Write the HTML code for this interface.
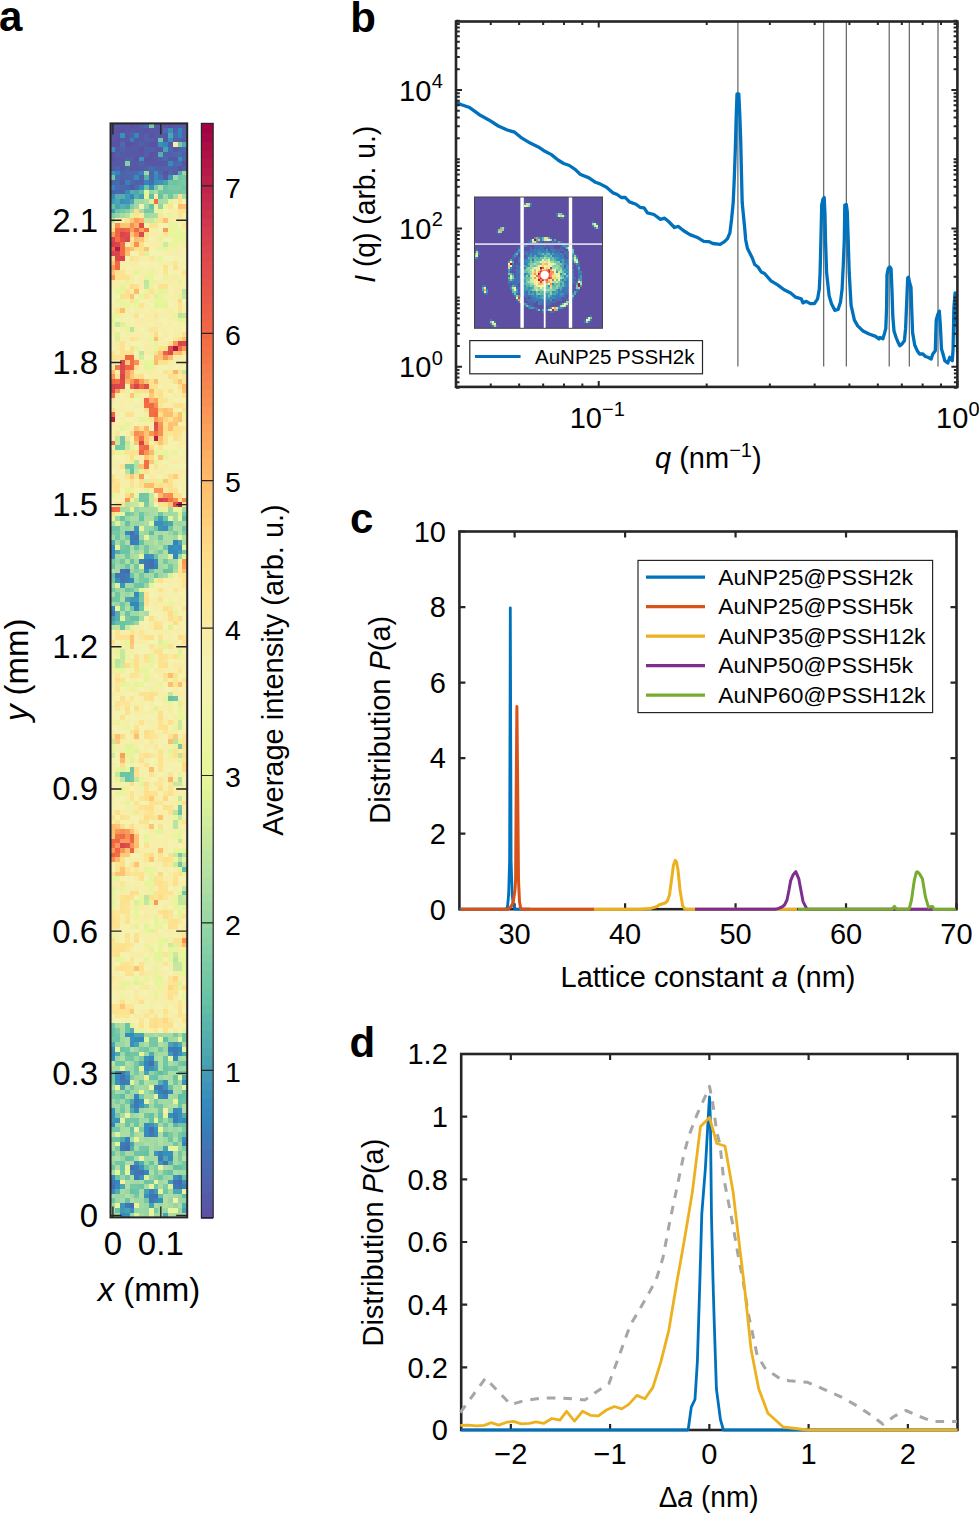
<!DOCTYPE html>
<html><head><meta charset="utf-8"><style>
html,body{margin:0;padding:0;background:#fff;width:979px;height:1514px;overflow:hidden}
svg{display:block}
</style></head><body>
<svg width="979" height="1514" viewBox="0 0 979 1514" font-family='"Liberation Sans", sans-serif'>
<rect width="979" height="1514" fill="#fff"/>
<text x="-1" y="31" font-size="42" text-anchor="start" font-weight="bold" font-style="normal" fill="#000" >a</text>
<text x="350.3" y="31.8" font-size="42" text-anchor="start" font-weight="bold" font-style="normal" fill="#000" >b</text>
<text x="350" y="533" font-size="42" text-anchor="start" font-weight="bold" font-style="normal" fill="#000" >c</text>
<text x="349.5" y="1057" font-size="42" text-anchor="start" font-weight="bold" font-style="normal" fill="#000" >d</text>
<path fill="#5956a5" shape-rendering="crispEdges" d="M110 123h5v5h-5zM120 123h5v5h-5zM125 123h5v5h-5zM134 123h5v5h-5zM163 123h5v5h-5zM125 128h5v5h-5zM134 128h5v5h-5zM110 133h5v5h-5zM115 133h5v5h-5zM139 133h5v5h-5zM110 138h5v4h-5zM125 138h5v4h-5zM158 147h5v5h-5zM173 147h5v5h-5zM125 152h5v5h-5zM139 152h5v5h-5zM154 152h4v5h-4zM115 157h5v4h-5zM120 157h5v4h-5zM173 157h5v4h-5zM110 161h5v5h-5zM149 161h5v5h-5zM154 161h4v5h-4zM158 161h5v5h-5zM130 166h4v5h-4zM130 185h4v5h-4z"/>
<path fill="#555aa7" shape-rendering="crispEdges" d="M115 123h5v5h-5zM154 123h4v5h-4zM158 123h5v5h-5zM173 123h5v5h-5zM178 123h4v5h-4zM182 123h5v5h-5zM130 128h4v5h-4zM139 128h5v5h-5zM149 128h5v5h-5zM154 128h4v5h-4zM125 133h5v5h-5zM154 133h4v5h-4zM158 133h5v5h-5zM163 133h5v5h-5zM120 138h5v4h-5zM134 138h5v4h-5zM139 138h5v4h-5zM154 138h4v4h-4zM163 138h5v4h-5zM182 138h5v4h-5zM134 142h5v5h-5zM144 142h5v5h-5zM168 142h5v5h-5zM115 147h5v5h-5zM125 147h5v5h-5zM130 147h4v5h-4zM134 147h5v5h-5zM154 147h4v5h-4zM120 152h5v5h-5zM130 152h4v5h-4zM134 152h5v5h-5zM154 157h4v4h-4zM168 157h5v4h-5zM115 161h5v5h-5zM120 161h5v5h-5zM130 161h4v5h-4zM134 161h5v5h-5zM144 161h5v5h-5zM163 161h5v5h-5zM110 166h5v5h-5zM120 166h5v5h-5zM134 166h5v5h-5zM139 166h5v5h-5zM173 171h5v4h-5zM163 175h5v5h-5zM120 180h5v5h-5z"/>
<path fill="#5c51a3" shape-rendering="crispEdges" d="M130 123h4v5h-4zM168 123h5v5h-5zM110 128h5v5h-5zM115 128h5v5h-5zM120 128h5v5h-5zM144 128h5v5h-5zM158 128h5v5h-5zM149 133h5v5h-5zM115 138h5v4h-5zM110 142h5v5h-5zM115 142h5v5h-5zM125 142h5v5h-5zM130 142h4v5h-4zM149 142h5v5h-5zM154 142h4v5h-4zM139 147h5v5h-5zM110 152h5v5h-5zM149 152h5v5h-5zM110 157h5v4h-5zM134 157h5v4h-5zM144 157h5v4h-5zM149 157h5v4h-5zM182 161h5v5h-5zM178 166h4v5h-4zM163 171h5v4h-5z"/>
<path fill="#525fa9" shape-rendering="crispEdges" d="M139 123h5v5h-5zM173 128h5v5h-5zM182 128h5v5h-5zM130 133h4v5h-4zM144 133h5v5h-5zM144 138h5v4h-5zM149 138h5v4h-5zM173 138h5v4h-5zM178 138h4v4h-4zM139 142h5v5h-5zM120 147h5v5h-5zM144 147h5v5h-5zM149 147h5v5h-5zM115 152h5v5h-5zM144 152h5v5h-5zM168 152h5v5h-5zM182 152h5v5h-5zM130 157h4v4h-4zM158 157h5v4h-5zM144 166h5v5h-5zM158 166h5v5h-5zM182 166h5v5h-5zM134 180h5v5h-5zM139 180h5v5h-5zM110 190h5v4h-5z"/>
<path fill="#4b67ae" shape-rendering="crispEdges" d="M144 123h5v5h-5zM168 147h5v5h-5zM182 147h5v5h-5zM173 152h5v5h-5zM163 157h5v4h-5zM182 157h5v4h-5zM173 161h5v5h-5zM125 171h5v4h-5zM130 171h4v4h-4zM158 171h5v4h-5zM168 171h5v4h-5zM130 175h4v5h-4zM149 175h5v5h-5zM115 180h5v5h-5zM130 180h4v5h-4zM120 185h5v5h-5zM115 190h5v4h-5zM125 569h5v4h-5zM178 1180h4v4h-4zM130 1203h4v5h-4z"/>
<path fill="#7bcaa5" shape-rendering="crispEdges" d="M149 123h5v5h-5zM178 142h4v5h-4zM182 180h5v5h-5zM168 185h5v5h-5zM173 185h5v5h-5zM178 185h4v5h-4zM182 190h5v4h-5zM149 209h5v4h-5zM120 445h5v5h-5zM144 502h5v5h-5zM182 512h5v4h-5zM110 531h5v4h-5zM173 531h5v4h-5zM120 540h5v5h-5zM158 550h5v4h-5zM139 578h5v5h-5zM139 597h5v5h-5zM125 616h5v5h-5zM130 621h4v4h-4zM178 853h4v4h-4zM115 1028h5v5h-5zM173 1033h5v4h-5zM139 1047h5v5h-5zM139 1056h5v5h-5zM134 1071h5v4h-5zM130 1075h4v5h-4zM154 1099h4v5h-4zM120 1104h5v4h-5zM182 1127h5v5h-5zM168 1132h5v5h-5zM115 1146h5v5h-5zM182 1146h5v5h-5zM178 1156h4v5h-4zM154 1170h4v5h-4zM154 1208h4v5h-4z"/>
<path fill="#486cb0" shape-rendering="crispEdges" d="M163 128h5v5h-5zM173 133h5v5h-5zM120 142h5v5h-5zM178 152h4v5h-4zM134 171h5v4h-5zM115 175h5v5h-5zM149 180h5v5h-5zM115 185h5v5h-5zM134 185h5v5h-5zM130 531h4v4h-4zM110 611h5v5h-5zM125 1146h5v5h-5zM130 1165h4v5h-4zM110 1184h5v5h-5zM154 1194h4v4h-4z"/>
<path fill="#3990ba" shape-rendering="crispEdges" d="M168 128h5v5h-5zM120 133h5v5h-5zM168 138h5v4h-5zM158 142h5v5h-5zM110 147h5v5h-5zM178 157h4v4h-4zM154 171h4v4h-4zM154 180h4v5h-4zM149 185h5v5h-5zM120 199h5v5h-5zM154 521h4v5h-4zM158 521h5v5h-5zM163 526h5v5h-5zM173 545h5v5h-5zM144 554h5v5h-5zM115 578h5v5h-5zM130 1037h4v5h-4zM130 1042h4v5h-4zM178 1052h4v4h-4zM144 1056h5v5h-5zM149 1066h5v5h-5zM115 1080h5v5h-5zM163 1080h5v5h-5zM182 1080h5v5h-5zM163 1085h5v5h-5zM158 1094h5v5h-5zM110 1108h5v5h-5zM178 1108h4v5h-4zM110 1113h5v5h-5zM168 1113h5v5h-5zM178 1113h4v5h-4zM115 1118h5v5h-5zM178 1118h4v5h-4zM154 1127h4v5h-4zM182 1137h5v5h-5zM163 1151h5v5h-5zM168 1151h5v5h-5zM134 1161h5v4h-5zM139 1175h5v5h-5zM173 1175h5v5h-5zM182 1180h5v4h-5zM144 1194h5v4h-5zM158 1198h5v5h-5zM125 1213h5v4h-5z"/>
<path fill="#3387bc" shape-rendering="crispEdges" d="M178 128h4v5h-4zM134 133h5v5h-5zM163 142h5v5h-5zM115 171h5v4h-5zM110 185h5v5h-5zM130 194h4v5h-4zM110 550h5v4h-5zM173 554h5v5h-5zM130 578h4v5h-4zM130 602h4v4h-4zM134 602h5v4h-5zM110 606h5v5h-5zM139 1037h5v5h-5zM178 1047h4v5h-4zM149 1056h5v5h-5zM144 1061h5v5h-5zM134 1094h5v5h-5zM163 1094h5v5h-5zM110 1123h5v4h-5zM144 1170h5v5h-5zM115 1180h5v4h-5zM154 1198h4v5h-4z"/>
<path fill="#4da6b0" shape-rendering="crispEdges" d="M168 133h5v5h-5zM134 190h5v4h-5zM115 199h5v5h-5zM130 199h4v5h-4zM125 204h5v5h-5zM168 521h5v5h-5zM110 540h5v5h-5zM125 597h5v5h-5zM110 1042h5v5h-5zM178 1042h4v5h-4zM115 1052h5v4h-5zM154 1061h4v5h-4zM182 1075h5v5h-5zM120 1085h5v5h-5zM130 1099h4v5h-4zM154 1123h4v4h-4zM163 1156h5v5h-5zM120 1184h5v5h-5zM173 1189h5v5h-5zM178 1189h4v5h-4z"/>
<path fill="#3682ba" shape-rendering="crispEdges" d="M178 133h4v5h-4zM130 138h4v4h-4zM139 171h5v4h-5zM125 180h5v5h-5zM144 180h5v5h-5zM134 540h5v5h-5zM173 540h5v5h-5zM139 559h5v5h-5zM154 564h4v5h-4zM110 1052h5v4h-5zM125 1137h5v5h-5zM182 1142h5v4h-5zM158 1151h5v5h-5zM178 1175h4v5h-4zM182 1184h5v5h-5zM149 1189h5v5h-5z"/>
<path fill="#4f63ab" shape-rendering="crispEdges" d="M182 133h5v5h-5zM178 147h4v5h-4zM163 152h5v5h-5zM125 157h5v4h-5zM139 161h5v5h-5zM115 166h5v5h-5zM125 166h5v5h-5zM154 166h4v5h-4zM163 166h5v5h-5zM168 166h5v5h-5zM173 166h5v5h-5zM120 171h5v4h-5zM149 171h5v4h-5zM120 175h5v5h-5zM125 175h5v5h-5zM139 175h5v5h-5zM110 180h5v5h-5zM125 185h5v5h-5zM120 190h5v4h-5z"/>
<path fill="#70c6a5" shape-rendering="crispEdges" d="M158 138h5v4h-5zM110 175h5v5h-5zM178 175h4v5h-4zM168 180h5v5h-5zM182 185h5v5h-5zM168 190h5v4h-5zM178 190h4v4h-4zM168 194h5v5h-5zM120 441h5v4h-5zM130 464h4v5h-4zM139 493h5v5h-5zM139 498h5v4h-5zM144 498h5v4h-5zM139 512h5v4h-5zM154 526h4v5h-4zM115 535h5v5h-5zM158 535h5v5h-5zM163 545h5v5h-5zM182 550h5v4h-5zM134 564h5v5h-5zM149 569h5v4h-5zM110 578h5v5h-5zM115 592h5v5h-5zM110 597h5v5h-5zM115 597h5v5h-5zM120 602h5v4h-5zM130 606h4v5h-4zM125 621h5v4h-5zM173 696h5v5h-5zM178 805h4v5h-4zM178 862h4v5h-4zM110 1023h5v5h-5zM115 1033h5v4h-5zM182 1033h5v4h-5zM110 1037h5v5h-5zM154 1042h4v5h-4zM125 1047h5v5h-5zM144 1047h5v5h-5zM130 1052h4v4h-4zM134 1052h5v4h-5zM130 1056h4v5h-4zM163 1056h5v5h-5zM115 1061h5v5h-5zM120 1061h5v5h-5zM163 1061h5v5h-5zM134 1066h5v5h-5zM173 1066h5v5h-5zM178 1071h4v4h-4zM182 1071h5v4h-5zM110 1075h5v5h-5zM139 1080h5v5h-5zM115 1094h5v5h-5zM125 1099h5v5h-5zM158 1104h5v4h-5zM120 1108h5v5h-5zM144 1113h5v5h-5zM125 1118h5v5h-5zM134 1118h5v5h-5zM158 1118h5v5h-5zM168 1118h5v5h-5zM163 1123h5v4h-5zM178 1123h4v4h-4zM110 1127h5v5h-5zM130 1132h4v5h-4zM168 1137h5v5h-5zM178 1137h4v5h-4zM173 1142h5v4h-5zM144 1146h5v5h-5zM120 1161h5v4h-5zM120 1170h5v5h-5zM163 1170h5v5h-5zM125 1175h5v5h-5zM158 1175h5v5h-5zM149 1180h5v4h-5zM154 1184h4v5h-4zM163 1189h5v5h-5z"/>
<path fill="#f7eea9" shape-rendering="crispEdges" d="M173 142h5v5h-5zM154 194h4v5h-4zM173 199h5v5h-5zM168 209h5v4h-5zM173 213h5v5h-5zM120 218h5v5h-5zM173 218h5v5h-5zM182 218h5v5h-5zM154 228h4v4h-4zM125 242h5v5h-5zM154 242h4v5h-4zM168 247h5v4h-5zM178 247h4v4h-4zM182 247h5v4h-5zM163 251h5v5h-5zM168 251h5v5h-5zM139 256h5v5h-5zM144 256h5v5h-5zM120 261h5v4h-5zM125 261h5v4h-5zM168 261h5v4h-5zM130 265h4v5h-4zM125 270h5v5h-5zM139 275h5v5h-5zM168 275h5v5h-5zM110 280h5v4h-5zM115 280h5v4h-5zM120 280h5v4h-5zM130 280h4v4h-4zM110 284h5v5h-5zM115 284h5v5h-5zM173 284h5v5h-5zM154 289h4v5h-4zM168 294h5v5h-5zM144 303h5v5h-5zM173 303h5v5h-5zM182 303h5v5h-5zM110 308h5v5h-5zM139 308h5v5h-5zM154 308h4v5h-4zM163 308h5v5h-5zM120 313h5v5h-5zM149 313h5v5h-5zM158 313h5v5h-5zM168 313h5v5h-5zM144 318h5v4h-5zM168 318h5v4h-5zM173 318h5v4h-5zM134 322h5v5h-5zM154 322h4v5h-4zM168 322h5v5h-5zM182 322h5v5h-5zM173 327h5v5h-5zM110 332h5v5h-5zM130 332h4v5h-4zM120 337h5v4h-5zM125 337h5v4h-5zM110 341h5v5h-5zM144 341h5v5h-5zM163 341h5v5h-5zM144 351h5v4h-5zM134 355h5v5h-5zM178 355h4v5h-4zM110 360h5v5h-5zM154 365h4v5h-4zM144 370h5v4h-5zM149 374h5v5h-5zM158 374h5v5h-5zM163 374h5v5h-5zM178 374h4v5h-4zM158 379h5v5h-5zM163 379h5v5h-5zM163 384h5v5h-5zM163 389h5v4h-5zM115 393h5v5h-5zM163 393h5v5h-5zM173 393h5v5h-5zM178 393h4v5h-4zM120 398h5v5h-5zM125 398h5v5h-5zM130 398h4v5h-4zM168 398h5v5h-5zM178 398h4v5h-4zM134 403h5v5h-5zM168 403h5v5h-5zM173 408h5v4h-5zM120 422h5v4h-5zM130 422h4v4h-4zM139 422h5v4h-5zM115 426h5v5h-5zM130 426h4v5h-4zM110 431h5v5h-5zM130 441h4v4h-4zM168 450h5v5h-5zM125 455h5v5h-5zM134 455h5v5h-5zM182 455h5v5h-5zM178 460h4v4h-4zM149 464h5v5h-5zM163 469h5v5h-5zM115 474h5v5h-5zM154 474h4v5h-4zM182 474h5v5h-5zM120 479h5v4h-5zM120 483h5v5h-5zM182 483h5v5h-5zM149 488h5v5h-5zM115 493h5v5h-5zM168 578h5v5h-5zM154 588h4v4h-4zM163 588h5v4h-5zM182 588h5v4h-5zM158 592h5v5h-5zM182 597h5v5h-5zM144 606h5v5h-5zM154 606h4v5h-4zM158 606h5v5h-5zM173 606h5v5h-5zM163 616h5v5h-5zM182 616h5v5h-5zM168 621h5v4h-5zM178 621h4v4h-4zM178 625h4v5h-4zM125 630h5v5h-5zM144 630h5v5h-5zM154 630h4v5h-4zM168 630h5v5h-5zM178 630h4v5h-4zM182 630h5v5h-5zM134 640h5v4h-5zM182 644h5v5h-5zM149 649h5v5h-5zM110 654h5v5h-5zM125 659h5v4h-5zM139 659h5v4h-5zM139 663h5v5h-5zM144 663h5v5h-5zM168 668h5v5h-5zM173 668h5v5h-5zM149 673h5v5h-5zM110 678h5v4h-5zM154 678h4v4h-4zM168 678h5v4h-5zM125 687h5v5h-5zM154 687h4v5h-4zM158 687h5v5h-5zM182 687h5v5h-5zM115 692h5v4h-5zM120 692h5v4h-5zM163 692h5v4h-5zM178 692h4v4h-4zM158 696h5v5h-5zM182 696h5v5h-5zM130 701h4v5h-4zM134 701h5v5h-5zM149 701h5v5h-5zM163 701h5v5h-5zM139 706h5v5h-5zM149 706h5v5h-5zM158 706h5v5h-5zM182 706h5v5h-5zM134 711h5v4h-5zM139 711h5v4h-5zM168 711h5v4h-5zM125 720h5v5h-5zM154 720h4v5h-4zM163 720h5v5h-5zM173 720h5v5h-5zM120 725h5v5h-5zM154 725h4v5h-4zM110 730h5v4h-5zM158 730h5v4h-5zM168 730h5v4h-5zM182 730h5v4h-5zM130 734h4v5h-4zM158 734h5v5h-5zM120 739h5v5h-5zM134 744h5v5h-5zM144 744h5v5h-5zM149 744h5v5h-5zM139 749h5v4h-5zM154 749h4v4h-4zM134 758h5v5h-5zM163 758h5v5h-5zM130 763h4v4h-4zM139 763h5v4h-5zM163 763h5v4h-5zM139 767h5v5h-5zM173 777h5v5h-5zM115 782h5v4h-5zM182 782h5v4h-5zM154 786h4v5h-4zM134 791h5v5h-5zM178 791h4v5h-4zM182 791h5v5h-5zM125 796h5v5h-5zM158 796h5v5h-5zM120 801h5v4h-5zM130 805h4v5h-4zM154 805h4v5h-4zM182 805h5v5h-5zM110 810h5v5h-5zM125 810h5v5h-5zM154 810h4v5h-4zM182 810h5v5h-5zM182 815h5v5h-5zM110 820h5v4h-5zM130 820h4v4h-4zM154 820h4v4h-4zM168 820h5v4h-5zM134 824h5v5h-5zM139 824h5v5h-5zM182 824h5v5h-5zM163 829h5v5h-5zM168 829h5v5h-5zM149 834h5v5h-5zM149 839h5v4h-5zM154 839h4v4h-4zM149 843h5v5h-5zM158 843h5v5h-5zM182 843h5v5h-5zM144 848h5v5h-5zM163 848h5v5h-5zM134 857h5v5h-5zM154 857h4v5h-4zM110 862h5v5h-5zM139 862h5v5h-5zM144 862h5v5h-5zM130 867h4v5h-4zM173 867h5v5h-5zM154 872h4v4h-4zM168 876h5v5h-5zM115 881h5v5h-5zM125 881h5v5h-5zM134 881h5v5h-5zM182 881h5v5h-5zM139 886h5v5h-5zM144 886h5v5h-5zM173 886h5v5h-5zM168 895h5v5h-5zM115 905h5v5h-5zM149 905h5v5h-5zM120 914h5v5h-5zM130 914h4v5h-4zM139 914h5v5h-5zM158 914h5v5h-5zM134 919h5v5h-5zM139 919h5v5h-5zM139 929h5v4h-5zM173 929h5v4h-5zM182 929h5v4h-5zM154 933h4v5h-4zM168 933h5v5h-5zM144 938h5v5h-5zM149 938h5v5h-5zM154 938h4v5h-4zM130 947h4v5h-4zM168 962h5v4h-5zM110 966h5v5h-5zM163 971h5v5h-5zM110 981h5v4h-5zM144 981h5v4h-5zM110 985h5v5h-5zM110 990h5v5h-5zM139 995h5v5h-5zM144 995h5v5h-5zM149 995h5v5h-5zM158 995h5v5h-5zM115 1000h5v4h-5zM130 1000h4v4h-4zM154 1000h4v4h-4zM182 1000h5v4h-5zM149 1004h5v5h-5zM163 1004h5v5h-5zM182 1004h5v5h-5zM154 1009h4v5h-4zM168 1009h5v5h-5zM149 1014h5v4h-5zM144 1028h5v5h-5zM163 1108h5v5h-5zM120 1180h5v4h-5z"/>
<path fill="#51abaf" shape-rendering="crispEdges" d="M182 142h5v5h-5zM178 171h4v4h-4zM115 550h5v4h-5zM110 621h5v4h-5zM130 1028h4v5h-4zM149 1052h5v4h-5zM182 1052h5v4h-5zM139 1061h5v5h-5zM130 1108h4v5h-4zM182 1113h5v5h-5zM120 1137h5v5h-5zM139 1161h5v4h-5zM115 1189h5v5h-5z"/>
<path fill="#49a2b2" shape-rendering="crispEdges" d="M163 147h5v5h-5zM163 180h5v5h-5zM115 204h5v5h-5zM178 540h4v5h-4zM134 1033h5v4h-5zM139 1033h5v4h-5zM134 1042h5v5h-5zM168 1042h5v5h-5zM154 1066h4v5h-4zM144 1071h5v4h-5zM130 1142h4v4h-4zM163 1146h5v5h-5zM144 1189h5v5h-5zM149 1203h5v5h-5zM125 1208h5v5h-5zM182 1208h5v5h-5zM163 1213h5v4h-5z"/>
<path fill="#55afad" shape-rendering="crispEdges" d="M158 152h5v5h-5zM144 175h5v5h-5zM130 190h4v4h-4zM115 194h5v5h-5zM120 194h5v5h-5zM134 194h5v5h-5zM120 204h5v5h-5zM115 611h5v5h-5zM115 616h5v5h-5zM158 1080h5v5h-5zM144 1104h5v4h-5zM130 1146h4v5h-4zM168 1161h5v4h-5zM182 1203h5v5h-5z"/>
<path fill="#3d94b8" shape-rendering="crispEdges" d="M139 157h5v4h-5zM110 171h5v4h-5zM168 175h5v5h-5zM158 180h5v5h-5zM125 199h5v5h-5zM134 526h5v5h-5zM158 526h5v5h-5zM149 554h5v5h-5zM120 583h5v5h-5zM173 1042h5v5h-5zM130 1104h4v4h-4zM139 1104h5v4h-5zM110 1118h5v5h-5zM149 1123h5v4h-5zM154 1151h4v5h-4zM158 1161h5v4h-5zM139 1165h5v5h-5zM120 1203h5v5h-5z"/>
<path fill="#86cea5" shape-rendering="crispEdges" d="M125 161h5v5h-5zM125 209h5v4h-5zM134 569h5v4h-5zM149 1090h5v4h-5z"/>
<path fill="#358bbc" shape-rendering="crispEdges" d="M168 161h5v5h-5zM134 175h5v5h-5zM154 175h4v5h-4zM139 185h5v5h-5zM125 190h5v4h-5zM110 194h5v5h-5zM125 531h5v4h-5zM134 531h5v4h-5zM110 545h5v5h-5zM168 545h5v5h-5zM178 545h4v5h-4zM168 550h5v4h-5zM173 550h5v4h-5zM110 554h5v5h-5zM154 559h4v5h-4zM144 569h5v4h-5zM134 592h5v5h-5zM134 606h5v5h-5zM125 1033h5v4h-5zM130 1033h4v4h-4zM134 1037h5v5h-5zM110 1047h5v5h-5zM110 1056h5v5h-5zM173 1056h5v5h-5zM144 1066h5v5h-5zM115 1071h5v4h-5zM115 1075h5v5h-5zM125 1075h5v5h-5zM168 1090h5v4h-5zM139 1099h5v5h-5zM134 1108h5v5h-5zM173 1108h5v5h-5zM182 1118h5v5h-5zM144 1123h5v4h-5zM144 1127h5v5h-5zM144 1132h5v5h-5zM154 1132h4v5h-4zM168 1156h5v5h-5zM130 1170h4v5h-4zM110 1175h5v5h-5zM115 1184h5v5h-5zM110 1189h5v5h-5zM130 1208h4v5h-4zM120 1213h5v4h-5z"/>
<path fill="#4470b2" shape-rendering="crispEdges" d="M178 161h4v5h-4zM149 166h5v5h-5zM149 559h5v5h-5zM149 564h5v5h-5zM120 569h5v4h-5zM149 1061h5v5h-5zM120 1075h5v5h-5zM163 1090h5v4h-5zM149 1127h5v5h-5zM163 1161h5v4h-5zM139 1170h5v5h-5zM173 1180h5v4h-5zM178 1184h4v5h-4z"/>
<path fill="#a1d9a4" shape-rendering="crispEdges" d="M144 171h5v4h-5zM173 175h5v5h-5zM139 199h5v5h-5zM134 204h5v5h-5zM144 204h5v5h-5zM144 213h5v5h-5zM168 507h5v5h-5zM182 507h5v5h-5zM134 512h5v4h-5zM168 512h5v4h-5zM130 521h4v5h-4zM139 521h5v5h-5zM173 521h5v5h-5zM110 535h5v5h-5zM120 535h5v5h-5zM149 535h5v5h-5zM173 535h5v5h-5zM139 545h5v5h-5zM149 545h5v5h-5zM115 554h5v5h-5zM134 559h5v5h-5zM168 559h5v5h-5zM158 564h5v5h-5zM173 564h5v5h-5zM154 569h4v4h-4zM158 569h5v4h-5zM144 573h5v5h-5zM125 583h5v5h-5zM120 588h5v4h-5zM110 602h5v4h-5zM125 602h5v4h-5zM130 611h4v5h-4zM134 611h5v5h-5zM144 1033h5v4h-5zM149 1033h5v4h-5zM158 1033h5v4h-5zM120 1037h5v5h-5zM168 1037h5v5h-5zM163 1042h5v5h-5zM120 1052h5v4h-5zM178 1056h4v5h-4zM130 1061h4v5h-4zM125 1066h5v5h-5zM182 1066h5v5h-5zM130 1071h4v4h-4zM134 1075h5v5h-5zM158 1075h5v5h-5zM149 1080h5v5h-5zM154 1080h4v5h-4zM178 1080h4v5h-4zM110 1085h5v5h-5zM125 1085h5v5h-5zM134 1085h5v5h-5zM144 1085h5v5h-5zM120 1090h5v4h-5zM130 1090h4v4h-4zM134 1090h5v4h-5zM144 1090h5v4h-5zM149 1094h5v5h-5zM173 1094h5v5h-5zM120 1099h5v5h-5zM158 1099h5v5h-5zM168 1099h5v5h-5zM115 1104h5v4h-5zM149 1104h5v4h-5zM163 1104h5v4h-5zM139 1118h5v5h-5zM144 1118h5v5h-5zM163 1118h5v5h-5zM158 1123h5v4h-5zM144 1137h5v5h-5zM154 1137h4v5h-4zM163 1137h5v5h-5zM110 1142h5v4h-5zM163 1142h5v4h-5zM168 1142h5v4h-5zM110 1146h5v5h-5zM115 1151h5v5h-5zM130 1151h4v5h-4zM182 1151h5v5h-5zM144 1156h5v5h-5zM168 1165h5v5h-5zM158 1170h5v5h-5zM178 1170h4v5h-4zM182 1170h5v5h-5zM168 1175h5v5h-5zM134 1180h5v4h-5zM158 1180h5v4h-5zM168 1189h5v5h-5zM130 1194h4v4h-4zM134 1198h5v5h-5zM139 1198h5v5h-5zM139 1203h5v5h-5zM158 1203h5v5h-5zM158 1208h5v5h-5zM110 1213h5v4h-5zM154 1213h4v4h-4z"/>
<path fill="#9bd7a4" shape-rendering="crispEdges" d="M182 171h5v4h-5zM134 199h5v5h-5zM144 512h5v4h-5zM115 516h5v5h-5zM125 516h5v5h-5zM134 521h5v5h-5zM178 521h4v5h-4zM120 526h5v5h-5zM144 526h5v5h-5zM144 531h5v4h-5zM168 531h5v4h-5zM139 535h5v5h-5zM158 540h5v5h-5zM134 550h5v4h-5zM154 550h4v4h-4zM178 554h4v5h-4zM130 569h4v4h-4zM139 569h5v4h-5zM158 573h5v5h-5zM134 578h5v5h-5zM110 583h5v5h-5zM130 583h4v5h-4zM144 583h5v5h-5zM125 592h5v5h-5zM134 621h5v4h-5zM115 1042h5v5h-5zM120 1042h5v5h-5zM139 1042h5v5h-5zM134 1047h5v5h-5zM149 1047h5v5h-5zM163 1047h5v5h-5zM144 1052h5v4h-5zM115 1056h5v5h-5zM134 1056h5v5h-5zM173 1061h5v5h-5zM130 1066h4v5h-4zM178 1066h4v5h-4zM130 1094h4v5h-4zM110 1099h5v5h-5zM110 1104h5v4h-5zM115 1108h5v5h-5zM139 1108h5v5h-5zM168 1108h5v5h-5zM115 1123h5v4h-5zM173 1127h5v5h-5zM173 1132h5v5h-5zM134 1142h5v4h-5zM139 1142h5v4h-5zM154 1142h4v4h-4zM178 1142h4v4h-4zM154 1146h4v5h-4zM158 1146h5v5h-5zM178 1146h4v5h-4zM144 1161h5v4h-5zM120 1175h5v5h-5zM163 1175h5v5h-5zM125 1189h5v5h-5zM115 1194h5v4h-5zM120 1194h5v4h-5zM115 1198h5v5h-5zM168 1198h5v5h-5zM178 1198h4v5h-4zM144 1203h5v5h-5zM139 1208h5v5h-5zM163 1208h5v5h-5zM178 1208h4v5h-4zM130 1213h4v4h-4zM144 1213h5v4h-5z"/>
<path fill="#4175b4" shape-rendering="crispEdges" d="M158 175h5v5h-5zM134 535h5v5h-5zM144 564h5v5h-5zM115 573h5v5h-5zM120 573h5v5h-5zM120 578h5v5h-5zM120 1071h5v4h-5zM158 1085h5v5h-5zM149 1132h5v5h-5zM125 1142h5v4h-5zM134 1165h5v5h-5zM134 1175h5v5h-5zM110 1180h5v4h-5zM149 1194h5v4h-5z"/>
<path fill="#76c8a5" shape-rendering="crispEdges" d="M182 175h5v5h-5zM178 180h4v5h-4zM154 185h4v5h-4zM158 190h5v4h-5zM173 190h5v4h-5zM120 209h5v4h-5zM144 209h5v4h-5zM120 436h5v5h-5zM115 445h5v5h-5zM125 464h5v5h-5zM144 493h5v5h-5zM125 512h5v4h-5zM158 512h5v4h-5zM168 526h5v5h-5zM115 531h5v4h-5zM125 535h5v5h-5zM120 545h5v5h-5zM144 545h5v5h-5zM144 550h5v4h-5zM125 554h5v5h-5zM110 559h5v5h-5zM120 559h5v5h-5zM163 559h5v5h-5zM168 564h5v5h-5zM139 573h5v5h-5zM144 578h5v5h-5zM110 588h5v4h-5zM130 588h4v4h-4zM139 592h5v5h-5zM120 606h5v5h-5zM178 744h4v5h-4zM130 772h4v5h-4zM130 777h4v5h-4zM182 891h5v4h-5zM149 1037h5v5h-5zM154 1037h4v5h-4zM182 1037h5v5h-5zM149 1042h5v5h-5zM158 1047h5v5h-5zM125 1056h5v5h-5zM134 1061h5v5h-5zM178 1061h4v5h-4zM168 1066h5v5h-5zM154 1071h4v4h-4zM163 1071h5v4h-5zM110 1080h5v5h-5zM173 1080h5v5h-5zM130 1085h4v5h-4zM110 1090h5v4h-5zM110 1094h5v5h-5zM139 1094h5v5h-5zM154 1104h4v4h-4zM158 1108h5v5h-5zM115 1113h5v5h-5zM130 1118h4v5h-4zM115 1127h5v5h-5zM178 1132h4v5h-4zM139 1146h5v5h-5zM120 1151h5v5h-5zM178 1151h4v5h-4zM115 1161h5v4h-5zM182 1161h5v4h-5zM182 1165h5v5h-5zM130 1184h4v5h-4zM134 1184h5v5h-5zM134 1194h5v4h-5zM144 1198h5v5h-5z"/>
<path fill="#6bc4a5" shape-rendering="crispEdges" d="M173 180h5v5h-5zM144 185h5v5h-5zM163 185h5v5h-5zM163 190h5v4h-5zM115 209h5v4h-5zM120 516h5v5h-5zM154 516h4v5h-4zM163 516h5v5h-5zM110 526h5v5h-5zM115 526h5v5h-5zM182 526h5v5h-5zM125 545h5v5h-5zM134 545h5v5h-5zM120 550h5v4h-5zM125 550h5v4h-5zM154 554h4v5h-4zM125 564h5v5h-5zM168 569h5v4h-5zM130 573h4v5h-4zM154 573h4v5h-4zM134 583h5v5h-5zM139 583h5v5h-5zM125 588h5v4h-5zM139 606h5v5h-5zM125 611h5v5h-5zM120 621h5v4h-5zM120 625h5v5h-5zM130 767h4v5h-4zM120 772h5v5h-5zM125 772h5v5h-5zM125 777h5v5h-5zM125 1023h5v5h-5zM125 1028h5v5h-5zM115 1037h5v5h-5zM120 1047h5v5h-5zM182 1061h5v5h-5zM163 1066h5v5h-5zM110 1071h5v4h-5zM149 1075h5v5h-5zM173 1075h5v5h-5zM168 1085h5v5h-5zM125 1090h5v4h-5zM182 1099h5v5h-5zM178 1104h4v4h-4zM125 1123h5v4h-5zM134 1123h5v4h-5zM182 1123h5v4h-5zM110 1137h5v5h-5zM115 1137h5v5h-5zM110 1151h5v5h-5zM134 1151h5v5h-5zM139 1151h5v5h-5zM130 1156h4v5h-4zM110 1165h5v5h-5zM120 1165h5v5h-5zM144 1165h5v5h-5zM115 1175h5v5h-5zM182 1175h5v5h-5zM144 1180h5v4h-5zM139 1184h5v5h-5zM134 1189h5v5h-5zM110 1198h5v5h-5zM125 1198h5v5h-5z"/>
<path fill="#b0dfa3" shape-rendering="crispEdges" d="M158 185h5v5h-5zM173 526h5v5h-5zM163 531h5v4h-5zM178 531h4v4h-4zM163 535h5v5h-5zM182 535h5v5h-5zM158 545h5v5h-5zM130 550h4v4h-4zM139 550h5v4h-5zM149 550h5v4h-5zM163 550h5v4h-5zM134 554h5v5h-5zM163 554h5v5h-5zM125 559h5v5h-5zM130 564h4v5h-4zM173 569h5v4h-5zM120 597h5v5h-5zM125 606h5v5h-5zM120 611h5v5h-5zM158 1042h5v5h-5zM120 1056h5v5h-5zM158 1056h5v5h-5zM168 1080h5v5h-5zM173 1104h5v4h-5zM182 1104h5v4h-5zM139 1132h5v5h-5zM158 1137h5v5h-5zM173 1137h5v5h-5zM158 1142h5v4h-5zM115 1156h5v5h-5zM154 1161h4v4h-4zM130 1175h4v5h-4zM125 1194h5v4h-5zM130 1198h4v5h-4zM163 1198h5v5h-5zM163 1203h5v5h-5zM168 1213h5v4h-5z"/>
<path fill="#62bda7" shape-rendering="crispEdges" d="M139 190h5v4h-5zM149 194h5v5h-5zM182 516h5v5h-5zM149 531h5v4h-5zM139 602h5v4h-5zM158 1071h5v4h-5zM120 1094h5v5h-5zM178 1094h4v5h-4zM163 1132h5v5h-5zM182 1194h5v4h-5z"/>
<path fill="#e6f599" shape-rendering="crispEdges" d="M144 190h5v4h-5zM168 199h5v5h-5zM182 232h5v5h-5zM158 237h5v5h-5zM182 237h5v5h-5zM144 275h5v5h-5zM125 280h5v4h-5zM120 289h5v5h-5zM163 289h5v5h-5zM139 294h5v5h-5zM158 294h5v5h-5zM120 303h5v5h-5zM158 303h5v5h-5zM154 341h4v5h-4zM144 360h5v5h-5zM149 365h5v5h-5zM134 393h5v5h-5zM182 412h5v5h-5zM144 417h5v5h-5zM125 422h5v4h-5zM154 450h4v5h-4zM163 450h5v5h-5zM154 460h4v4h-4zM125 488h5v5h-5zM163 507h5v5h-5zM110 516h5v5h-5zM178 516h4v5h-4zM139 526h5v5h-5zM115 545h5v5h-5zM139 554h5v5h-5zM149 583h5v5h-5zM173 611h5v5h-5zM130 625h4v5h-4zM149 654h5v5h-5zM110 663h5v5h-5zM130 663h4v5h-4zM120 668h5v5h-5zM139 668h5v5h-5zM144 673h5v5h-5zM120 682h5v5h-5zM125 682h5v5h-5zM163 696h5v5h-5zM178 706h4v5h-4zM115 720h5v5h-5zM110 749h5v4h-5zM125 749h5v4h-5zM125 753h5v5h-5zM130 753h4v5h-4zM178 758h4v5h-4zM115 767h5v5h-5zM178 772h4v5h-4zM178 820h4v4h-4zM178 829h4v5h-4zM144 834h5v5h-5zM178 834h4v5h-4zM178 848h4v5h-4zM182 848h5v5h-5zM149 867h5v5h-5zM149 872h5v4h-5zM182 872h5v4h-5zM110 876h5v5h-5zM115 876h5v5h-5zM149 876h5v5h-5zM144 881h5v5h-5zM149 886h5v5h-5zM110 891h5v4h-5zM178 891h4v4h-4zM139 900h5v5h-5zM149 900h5v5h-5zM134 905h5v5h-5zM154 914h4v5h-4zM163 938h5v5h-5zM144 943h5v4h-5zM158 943h5v4h-5zM158 947h5v5h-5zM154 952h4v5h-4zM168 952h5v5h-5zM115 957h5v5h-5zM144 957h5v5h-5zM154 957h4v5h-4zM158 957h5v5h-5zM168 957h5v5h-5zM178 957h4v5h-4zM182 962h5v4h-5zM158 976h5v5h-5zM139 981h5v4h-5zM154 990h4v5h-4zM182 995h5v5h-5zM139 1052h5v4h-5zM115 1085h5v5h-5zM173 1099h5v5h-5zM168 1146h5v5h-5zM125 1170h5v5h-5zM182 1189h5v5h-5zM134 1203h5v5h-5zM168 1208h5v5h-5zM149 1213h5v4h-5z"/>
<path fill="#96d5a4" shape-rendering="crispEdges" d="M149 190h5v4h-5zM115 213h5v5h-5zM134 507h5v5h-5zM125 526h5v5h-5zM120 531h5v4h-5zM115 559h5v5h-5zM120 564h5v5h-5zM115 588h5v4h-5zM134 588h5v4h-5zM115 602h5v4h-5zM154 1052h4v4h-4zM130 1113h4v5h-4zM163 1127h5v5h-5zM120 1156h5v5h-5zM110 1161h5v4h-5zM149 1165h5v5h-5zM149 1175h5v5h-5zM178 1194h4v4h-4zM182 1198h5v5h-5zM173 1203h5v5h-5zM134 1208h5v5h-5zM144 1208h5v5h-5z"/>
<path fill="#abdda4" shape-rendering="crispEdges" d="M154 190h4v4h-4zM144 199h5v5h-5zM158 199h5v5h-5zM163 199h5v5h-5zM130 209h4v4h-4zM139 209h5v4h-5zM154 213h4v5h-4zM125 507h5v5h-5zM154 507h4v5h-4zM154 512h4v4h-4zM130 516h4v5h-4zM134 516h5v5h-5zM144 516h5v5h-5zM149 516h5v5h-5zM120 521h5v5h-5zM144 521h5v5h-5zM178 526h4v5h-4zM154 531h4v4h-4zM168 535h5v5h-5zM125 540h5v5h-5zM163 540h5v5h-5zM168 540h5v5h-5zM158 554h5v5h-5zM163 564h5v5h-5zM110 569h5v4h-5zM149 578h5v5h-5zM130 592h4v5h-4zM144 611h5v5h-5zM120 1023h5v5h-5zM154 1033h4v4h-4zM125 1037h5v5h-5zM125 1042h5v5h-5zM144 1042h5v5h-5zM130 1047h4v5h-4zM182 1056h5v5h-5zM125 1061h5v5h-5zM158 1061h5v5h-5zM168 1061h5v5h-5zM158 1066h5v5h-5zM168 1071h5v4h-5zM163 1075h5v5h-5zM134 1080h5v5h-5zM173 1085h5v5h-5zM173 1090h5v4h-5zM149 1099h5v5h-5zM168 1104h5v4h-5zM149 1108h5v5h-5zM154 1108h4v5h-4zM182 1108h5v5h-5zM125 1127h5v5h-5zM110 1132h5v5h-5zM120 1132h5v5h-5zM125 1132h5v5h-5zM158 1132h5v5h-5zM139 1137h5v5h-5zM144 1142h5v4h-5zM149 1151h5v5h-5zM173 1151h5v5h-5zM134 1156h5v5h-5zM125 1161h5v4h-5zM130 1161h4v4h-4zM115 1165h5v5h-5zM163 1165h5v5h-5zM110 1170h5v5h-5zM149 1170h5v5h-5zM173 1170h5v5h-5zM125 1180h5v4h-5zM163 1180h5v4h-5zM125 1184h5v5h-5zM139 1194h5v4h-5zM163 1194h5v4h-5zM154 1203h4v5h-4zM178 1203h4v5h-4zM115 1213h5v4h-5z"/>
<path fill="#4199b6" shape-rendering="crispEdges" d="M125 194h5v5h-5zM110 199h5v5h-5zM110 209h5v4h-5zM130 597h4v5h-4zM134 597h5v5h-5zM168 1052h5v4h-5zM125 1071h5v4h-5zM154 1189h4v5h-4zM120 1208h5v5h-5z"/>
<path fill="#459db4" shape-rendering="crispEdges" d="M139 194h5v5h-5zM158 516h5v5h-5zM163 521h5v5h-5zM178 550h4v4h-4zM110 616h5v5h-5zM154 1090h4v4h-4zM168 1180h5v4h-5z"/>
<path fill="#e3f499" shape-rendering="crispEdges" d="M144 194h5v5h-5zM130 213h4v5h-4zM134 270h5v5h-5zM178 280h4v4h-4zM120 284h5v5h-5zM158 289h5v5h-5zM178 294h4v5h-4zM134 299h5v4h-5zM154 303h4v5h-4zM163 303h5v5h-5zM178 318h4v4h-4zM182 318h5v4h-5zM144 365h5v5h-5zM139 417h5v5h-5zM120 426h5v5h-5zM163 455h5v5h-5zM130 460h4v4h-4zM139 469h5v5h-5zM158 479h5v4h-5zM144 488h5v5h-5zM130 507h4v5h-4zM158 507h5v5h-5zM168 516h5v5h-5zM178 559h4v5h-4zM139 564h5v5h-5zM154 578h4v5h-4zM139 588h5v4h-5zM120 616h5v5h-5zM163 644h5v5h-5zM115 649h5v5h-5zM149 659h5v4h-5zM144 678h5v4h-5zM134 682h5v5h-5zM178 739h4v5h-4zM110 744h5v5h-5zM125 744h5v5h-5zM130 744h4v5h-4zM168 749h5v4h-5zM115 777h5v5h-5zM139 782h5v4h-5zM120 786h5v5h-5zM125 801h5v4h-5zM178 801h4v4h-4zM158 829h5v5h-5zM182 857h5v5h-5zM144 867h5v5h-5zM178 867h4v5h-4zM110 886h5v5h-5zM120 886h5v5h-5zM110 900h5v5h-5zM182 905h5v5h-5zM178 910h4v4h-4zM178 914h4v5h-4zM154 919h4v5h-4zM134 924h5v5h-5zM144 924h5v5h-5zM149 947h5v5h-5zM158 952h5v5h-5zM182 957h5v5h-5zM182 966h5v5h-5zM125 981h5v4h-5zM120 985h5v5h-5zM130 1023h4v5h-4zM182 1028h5v5h-5zM178 1037h4v5h-4zM115 1047h5v5h-5zM120 1066h5v5h-5zM139 1066h5v5h-5zM144 1075h5v5h-5zM130 1080h4v5h-4zM163 1113h5v5h-5zM120 1118h5v5h-5zM154 1118h4v5h-4zM134 1137h5v5h-5zM125 1165h5v5h-5zM115 1170h5v5h-5zM158 1189h5v5h-5z"/>
<path fill="#66c2a5" shape-rendering="crispEdges" d="M158 194h5v5h-5zM110 204h5v5h-5zM149 204h5v5h-5zM130 469h4v5h-4zM139 516h5v5h-5zM125 521h5v5h-5zM139 540h5v5h-5zM130 559h4v5h-4zM110 564h5v5h-5zM163 569h5v4h-5zM110 573h5v5h-5zM130 616h4v5h-4zM134 616h5v5h-5zM115 621h5v4h-5zM168 696h5v5h-5zM178 810h4v5h-4zM182 867h5v5h-5zM110 1028h5v5h-5zM110 1033h5v4h-5zM163 1037h5v5h-5zM125 1052h5v4h-5zM154 1075h4v5h-4zM182 1090h5v4h-5zM182 1094h5v5h-5zM178 1099h4v5h-4zM149 1113h5v5h-5zM158 1113h5v5h-5zM149 1118h5v5h-5zM130 1127h4v5h-4zM182 1132h5v5h-5zM144 1151h5v5h-5zM125 1156h5v5h-5zM149 1161h5v4h-5zM173 1165h5v5h-5zM178 1165h4v5h-4zM168 1170h5v5h-5zM130 1189h4v5h-4zM158 1194h5v4h-5zM115 1208h5v5h-5z"/>
<path fill="#a6dba4" shape-rendering="crispEdges" d="M163 194h5v5h-5zM173 194h5v5h-5zM182 194h5v5h-5zM120 213h5v5h-5zM149 213h5v5h-5zM120 507h5v5h-5zM139 507h5v5h-5zM144 507h5v5h-5zM149 507h5v5h-5zM149 512h5v4h-5zM163 512h5v4h-5zM173 512h5v4h-5zM173 516h5v5h-5zM110 521h5v5h-5zM182 521h5v5h-5zM130 526h4v5h-4zM139 531h5v4h-5zM158 531h5v4h-5zM154 535h4v5h-4zM115 540h5v5h-5zM144 540h5v5h-5zM149 540h5v5h-5zM182 540h5v5h-5zM130 545h4v5h-4zM154 545h4v5h-4zM120 554h5v5h-5zM130 554h4v5h-4zM158 559h5v5h-5zM173 559h5v5h-5zM115 564h5v5h-5zM115 569h5v4h-5zM134 573h5v5h-5zM149 573h5v5h-5zM163 573h5v5h-5zM110 592h5v5h-5zM120 592h5v5h-5zM139 616h5v5h-5zM115 1023h5v5h-5zM120 1028h5v5h-5zM120 1033h5v4h-5zM163 1033h5v4h-5zM168 1033h5v4h-5zM178 1033h4v4h-4zM173 1037h5v5h-5zM182 1042h5v5h-5zM154 1047h4v5h-4zM158 1052h5v4h-5zM163 1052h5v4h-5zM154 1056h4v5h-4zM110 1066h5v5h-5zM115 1066h5v5h-5zM139 1071h5v4h-5zM173 1071h5v4h-5zM139 1075h5v5h-5zM168 1075h5v5h-5zM139 1085h5v5h-5zM178 1085h4v5h-4zM115 1090h5v4h-5zM178 1090h4v4h-4zM125 1094h5v5h-5zM144 1094h5v5h-5zM168 1094h5v5h-5zM163 1099h5v5h-5zM125 1104h5v4h-5zM125 1108h5v5h-5zM144 1108h5v5h-5zM120 1113h5v5h-5zM134 1113h5v5h-5zM154 1113h4v5h-4zM120 1123h5v4h-5zM130 1123h4v4h-4zM139 1123h5v4h-5zM168 1123h5v4h-5zM120 1127h5v5h-5zM168 1127h5v5h-5zM178 1127h4v5h-4zM134 1132h5v5h-5zM130 1137h4v5h-4zM149 1137h5v5h-5zM149 1142h5v4h-5zM134 1146h5v5h-5zM149 1146h5v5h-5zM125 1151h5v5h-5zM110 1156h5v5h-5zM149 1156h5v5h-5zM154 1156h4v5h-4zM173 1156h5v5h-5zM173 1161h5v4h-5zM130 1180h4v4h-4zM139 1180h5v4h-5zM144 1184h5v5h-5zM158 1184h5v5h-5zM120 1189h5v5h-5zM139 1189h5v5h-5zM110 1194h5v4h-5zM168 1194h5v4h-5zM173 1194h5v4h-5zM120 1198h5v5h-5zM110 1203h5v5h-5zM168 1203h5v5h-5zM110 1208h5v5h-5zM139 1213h5v4h-5zM158 1213h5v4h-5zM173 1213h5v4h-5zM178 1213h4v4h-4zM182 1213h5v4h-5z"/>
<path fill="#fce392" shape-rendering="crispEdges" d="M178 194h4v5h-4zM168 204h5v5h-5zM178 209h4v4h-4zM182 209h5v4h-5zM178 213h4v5h-4zM130 256h4v5h-4zM115 270h5v5h-5zM182 270h5v5h-5zM125 275h5v5h-5zM163 284h5v5h-5zM125 294h5v5h-5zM130 299h4v4h-4zM178 303h4v5h-4zM163 346h5v5h-5zM125 351h5v4h-5zM130 351h4v4h-4zM154 351h4v4h-4zM115 355h5v5h-5zM163 370h5v4h-5zM178 370h4v4h-4zM173 374h5v5h-5zM182 374h5v5h-5zM182 379h5v5h-5zM139 389h5v4h-5zM158 389h5v4h-5zM168 389h5v4h-5zM158 398h5v5h-5zM178 403h4v5h-4zM144 408h5v4h-5zM168 417h5v5h-5zM163 422h5v4h-5zM178 426h4v5h-4zM182 426h5v5h-5zM163 431h5v5h-5zM178 431h4v5h-4zM125 436h5v5h-5zM173 436h5v5h-5zM163 441h5v4h-5zM130 450h4v5h-4zM120 464h5v5h-5zM154 464h4v5h-4zM144 469h5v5h-5zM110 474h5v5h-5zM110 483h5v5h-5zM130 483h4v5h-4zM139 483h5v5h-5zM154 483h4v5h-4zM178 493h4v5h-4zM115 502h5v5h-5zM182 578h5v5h-5zM158 588h5v4h-5zM158 597h5v5h-5zM115 635h5v5h-5zM120 635h5v5h-5zM125 635h5v5h-5zM158 635h5v5h-5zM182 635h5v5h-5zM182 640h5v4h-5zM149 644h5v5h-5zM158 654h5v5h-5zM163 654h5v5h-5zM173 673h5v5h-5zM120 678h5v4h-5zM173 682h5v5h-5zM139 692h5v4h-5zM144 692h5v4h-5zM154 692h4v4h-4zM144 696h5v5h-5zM125 711h5v4h-5zM120 715h5v5h-5zM158 720h5v5h-5zM130 730h4v4h-4zM168 734h5v5h-5zM182 739h5v5h-5zM173 749h5v4h-5zM158 753h5v5h-5zM182 758h5v5h-5zM158 767h5v5h-5zM168 786h5v5h-5zM130 791h4v5h-4zM154 801h4v4h-4zM139 805h5v5h-5zM168 805h5v5h-5zM168 810h5v5h-5zM110 815h5v5h-5zM149 815h5v5h-5zM139 820h5v4h-5zM144 820h5v4h-5zM158 824h5v5h-5zM134 848h5v5h-5zM163 862h5v5h-5zM125 867h5v5h-5zM134 872h5v4h-5zM154 876h4v5h-4zM158 886h5v5h-5zM154 891h4v4h-4zM163 891h5v4h-5zM130 895h4v5h-4zM110 910h5v4h-5zM125 910h5v4h-5zM168 910h5v4h-5zM168 919h5v5h-5zM173 924h5v5h-5zM134 933h5v5h-5zM182 933h5v5h-5zM110 943h5v4h-5zM115 943h5v4h-5zM120 943h5v4h-5zM178 943h4v4h-4zM110 952h5v5h-5zM130 966h4v5h-4zM125 971h5v5h-5zM173 981h5v4h-5zM168 990h5v5h-5zM173 990h5v5h-5zM110 1004h5v5h-5zM178 1004h4v5h-4zM110 1009h5v5h-5zM149 1009h5v5h-5zM178 1014h4v4h-4zM158 1018h5v5h-5zM182 1018h5v5h-5z"/>
<path fill="#def29a" shape-rendering="crispEdges" d="M149 199h5v5h-5zM144 251h5v5h-5zM154 294h4v5h-4zM120 322h5v5h-5zM115 332h5v5h-5zM144 479h5v4h-5zM178 512h4v4h-4zM115 521h5v5h-5zM168 554h5v5h-5zM182 554h5v5h-5zM115 583h5v5h-5zM168 625h5v5h-5zM178 649h4v5h-4zM178 701h4v5h-4zM154 706h4v5h-4zM134 749h5v4h-5zM130 758h4v5h-4zM120 767h5v5h-5zM149 929h5v4h-5zM173 943h5v4h-5zM134 981h5v4h-5zM178 981h4v4h-4zM144 1037h5v5h-5zM115 1132h5v5h-5zM144 1175h5v5h-5zM168 1184h5v5h-5z"/>
<path fill="#f46d43" shape-rendering="crispEdges" d="M154 199h4v5h-4zM144 228h5v4h-5zM115 237h5v5h-5zM130 360h4v5h-4zM115 379h5v5h-5zM144 403h5v5h-5zM149 408h5v4h-5zM154 408h4v4h-4zM149 412h5v5h-5zM154 431h4v5h-4zM139 445h5v5h-5zM144 460h5v4h-5zM144 464h5v5h-5zM115 507h5v5h-5zM110 843h5v5h-5zM115 853h5v4h-5z"/>
<path fill="#fde28f" shape-rendering="crispEdges" d="M178 199h4v5h-4zM134 213h5v5h-5zM125 218h5v5h-5zM158 218h5v5h-5zM149 223h5v5h-5zM154 223h4v5h-4zM144 232h5v5h-5zM139 251h5v5h-5zM163 265h5v5h-5zM173 265h5v5h-5zM120 270h5v5h-5zM115 275h5v5h-5zM120 275h5v5h-5zM134 284h5v5h-5zM158 284h5v5h-5zM125 289h5v5h-5zM149 289h5v5h-5zM139 303h5v5h-5zM115 308h5v5h-5zM178 308h4v5h-4zM134 313h5v5h-5zM130 337h4v4h-4zM120 341h5v5h-5zM168 341h5v5h-5zM120 346h5v5h-5zM158 346h5v5h-5zM110 351h5v4h-5zM120 351h5v4h-5zM182 351h5v4h-5zM120 355h5v5h-5zM158 360h5v5h-5zM163 360h5v5h-5zM134 365h5v5h-5zM134 374h5v5h-5zM149 379h5v5h-5zM149 384h5v5h-5zM154 384h4v5h-4zM182 393h5v5h-5zM163 398h5v5h-5zM173 403h5v5h-5zM182 408h5v4h-5zM125 412h5v5h-5zM130 412h4v5h-4zM173 412h5v5h-5zM149 417h5v5h-5zM149 436h5v5h-5zM163 436h5v5h-5zM110 450h5v5h-5zM125 450h5v5h-5zM134 450h5v5h-5zM125 474h5v5h-5zM130 479h4v4h-4zM168 479h5v4h-5zM173 488h5v5h-5zM178 498h4v4h-4zM120 502h5v5h-5zM158 502h5v5h-5zM182 583h5v5h-5zM144 592h5v5h-5zM144 602h5v4h-5zM154 621h4v4h-4zM158 625h5v5h-5zM115 630h5v5h-5zM130 630h4v5h-4zM144 635h5v5h-5zM168 644h5v5h-5zM154 649h4v5h-4zM158 649h5v5h-5zM134 654h5v5h-5zM144 654h5v5h-5zM173 654h5v5h-5zM158 659h5v4h-5zM158 663h5v5h-5zM134 668h5v5h-5zM178 668h4v5h-4zM130 673h4v5h-4zM182 678h5v4h-5zM115 687h5v5h-5zM115 701h5v5h-5zM139 720h5v5h-5zM134 725h5v5h-5zM158 725h5v5h-5zM149 730h5v4h-5zM110 734h5v5h-5zM158 749h5v4h-5zM173 753h5v5h-5zM158 758h5v5h-5zM144 763h5v4h-5zM158 763h5v4h-5zM134 772h5v5h-5zM149 772h5v5h-5zM144 786h5v5h-5zM149 791h5v5h-5zM154 791h4v5h-4zM130 796h4v5h-4zM134 801h5v4h-5zM149 801h5v4h-5zM149 810h5v5h-5zM120 815h5v5h-5zM115 820h5v4h-5zM182 820h5v4h-5zM144 843h5v5h-5zM144 853h5v4h-5zM158 853h5v4h-5zM168 853h5v4h-5zM168 857h5v5h-5zM115 867h5v5h-5zM110 872h5v4h-5zM139 872h5v4h-5zM173 876h5v5h-5zM154 881h4v5h-4zM163 886h5v5h-5zM158 891h5v4h-5zM168 891h5v4h-5zM120 895h5v5h-5zM120 900h5v5h-5zM125 900h5v5h-5zM120 905h5v5h-5zM120 910h5v4h-5zM110 914h5v5h-5zM182 914h5v5h-5zM115 919h5v5h-5zM125 919h5v5h-5zM110 924h5v5h-5zM115 924h5v5h-5zM125 933h5v5h-5zM110 938h5v5h-5zM173 938h5v5h-5zM178 938h4v5h-4zM125 943h5v4h-5zM110 947h5v5h-5zM125 962h5v4h-5zM139 962h5v4h-5zM115 966h5v5h-5zM125 966h5v5h-5zM130 971h4v5h-4zM173 985h5v5h-5zM115 1004h5v5h-5zM115 1009h5v5h-5zM120 1009h5v5h-5zM125 1009h5v5h-5zM163 1009h5v5h-5zM178 1009h4v5h-4zM144 1014h5v4h-5zM149 1018h5v5h-5zM139 1023h5v5h-5zM163 1023h5v5h-5zM163 1028h5v5h-5z"/>
<path fill="#f4f2b2" shape-rendering="crispEdges" d="M182 199h5v5h-5zM139 204h5v5h-5zM178 223h4v5h-4zM149 237h5v5h-5zM163 237h5v5h-5zM144 242h5v5h-5zM149 247h5v4h-5zM130 251h4v5h-4zM182 251h5v5h-5zM173 256h5v5h-5zM182 256h5v5h-5zM139 261h5v4h-5zM149 261h5v4h-5zM154 261h4v4h-4zM178 261h4v4h-4zM168 265h5v5h-5zM182 265h5v5h-5zM178 270h4v5h-4zM134 280h5v4h-5zM168 289h5v5h-5zM110 294h5v5h-5zM115 294h5v5h-5zM168 303h5v5h-5zM130 308h4v5h-4zM125 318h5v4h-5zM130 318h4v4h-4zM110 337h5v4h-5zM163 337h5v4h-5zM110 346h5v5h-5zM139 346h5v5h-5zM182 355h5v5h-5zM115 360h5v5h-5zM178 360h4v5h-4zM158 365h5v5h-5zM163 365h5v5h-5zM120 393h5v5h-5zM130 403h4v5h-4zM134 412h5v5h-5zM125 417h5v5h-5zM134 445h5v5h-5zM178 450h4v5h-4zM173 455h5v5h-5zM163 460h5v4h-5zM168 464h5v5h-5zM173 464h5v5h-5zM178 464h4v5h-4zM144 474h5v5h-5zM158 474h5v5h-5zM178 483h4v5h-4zM120 493h5v5h-5zM154 493h4v5h-4zM182 493h5v5h-5zM110 502h5v5h-5zM154 502h4v5h-4zM168 588h5v4h-5zM154 592h4v5h-4zM149 606h5v5h-5zM158 616h5v5h-5zM144 625h5v5h-5zM110 630h5v5h-5zM173 635h5v5h-5zM134 649h5v5h-5zM154 673h4v5h-4zM158 678h5v4h-5zM144 682h5v5h-5zM139 687h5v5h-5zM178 687h4v5h-4zM130 692h4v4h-4zM154 696h4v5h-4zM173 701h5v5h-5zM130 711h4v4h-4zM149 715h5v5h-5zM182 720h5v5h-5zM110 725h5v5h-5zM130 725h4v5h-4zM120 730h5v4h-5zM178 730h4v4h-4zM163 734h5v5h-5zM144 739h5v5h-5zM158 744h5v5h-5zM163 753h5v5h-5zM149 763h5v4h-5zM154 767h4v5h-4zM168 767h5v5h-5zM173 772h5v5h-5zM182 777h5v5h-5zM110 782h5v4h-5zM163 782h5v4h-5zM134 820h5v4h-5zM149 820h5v4h-5zM182 834h5v5h-5zM168 839h5v4h-5zM125 857h5v5h-5zM125 862h5v5h-5zM158 867h5v5h-5zM125 876h5v5h-5zM130 881h4v5h-4zM178 886h4v5h-4zM115 900h5v5h-5zM158 900h5v5h-5zM120 924h5v5h-5zM115 929h5v4h-5zM120 933h5v5h-5zM163 933h5v5h-5zM130 938h4v5h-4zM134 943h5v4h-5zM139 957h5v5h-5zM149 962h5v4h-5zM134 971h5v5h-5zM168 971h5v5h-5zM163 976h5v5h-5zM130 990h4v5h-4zM144 1000h5v4h-5zM139 1004h5v5h-5zM154 1004h4v5h-4zM134 1009h5v5h-5zM173 1009h5v5h-5zM130 1014h4v4h-4zM120 1018h5v5h-5zM178 1018h4v5h-4z"/>
<path fill="#80cca5" shape-rendering="crispEdges" d="M130 204h4v5h-4zM110 213h5v5h-5zM130 512h4v4h-4zM182 531h5v4h-5zM115 1099h5v5h-5zM139 1127h5v5h-5zM154 1165h4v5h-4zM154 1175h4v5h-4zM163 1184h5v5h-5z"/>
<path fill="#f6efac" shape-rendering="crispEdges" d="M154 204h4v5h-4zM163 213h5v5h-5zM182 213h5v5h-5zM178 218h4v5h-4zM149 228h5v4h-5zM182 228h5v4h-5zM149 232h5v5h-5zM154 232h4v5h-4zM158 232h5v5h-5zM149 242h5v5h-5zM158 242h5v5h-5zM178 242h4v5h-4zM154 247h4v4h-4zM173 247h5v4h-5zM173 251h5v5h-5zM178 251h4v5h-4zM154 256h4v5h-4zM158 261h5v4h-5zM163 261h5v4h-5zM182 261h5v4h-5zM120 265h5v5h-5zM134 265h5v5h-5zM139 265h5v5h-5zM149 265h5v5h-5zM178 265h4v5h-4zM130 270h4v5h-4zM139 270h5v5h-5zM144 270h5v5h-5zM154 270h4v5h-4zM178 275h4v5h-4zM158 280h5v4h-5zM163 280h5v4h-5zM173 280h5v4h-5zM182 280h5v4h-5zM139 284h5v5h-5zM182 284h5v5h-5zM149 294h5v5h-5zM163 294h5v5h-5zM173 294h5v5h-5zM125 299h5v4h-5zM149 299h5v4h-5zM173 299h5v4h-5zM115 303h5v5h-5zM130 303h4v5h-4zM125 308h5v5h-5zM134 308h5v5h-5zM149 308h5v5h-5zM182 308h5v5h-5zM130 313h4v5h-4zM163 313h5v5h-5zM134 318h5v4h-5zM149 318h5v4h-5zM125 322h5v5h-5zM139 322h5v5h-5zM144 322h5v5h-5zM178 322h4v5h-4zM120 327h5v5h-5zM134 327h5v5h-5zM144 327h5v5h-5zM158 327h5v5h-5zM163 327h5v5h-5zM178 327h4v5h-4zM125 332h5v5h-5zM134 332h5v5h-5zM139 332h5v5h-5zM149 332h5v5h-5zM173 332h5v5h-5zM178 332h4v5h-4zM139 337h5v4h-5zM144 337h5v4h-5zM125 341h5v5h-5zM149 341h5v5h-5zM158 341h5v5h-5zM149 346h5v5h-5zM115 351h5v4h-5zM173 355h5v5h-5zM139 360h5v5h-5zM173 360h5v5h-5zM139 365h5v5h-5zM168 365h5v5h-5zM178 365h4v5h-4zM139 370h5v4h-5zM154 374h4v5h-4zM168 379h5v5h-5zM168 384h5v5h-5zM144 393h5v5h-5zM139 398h5v5h-5zM110 403h5v5h-5zM120 403h5v5h-5zM139 403h5v5h-5zM163 403h5v5h-5zM115 408h5v4h-5zM120 408h5v4h-5zM125 408h5v4h-5zM130 408h4v4h-4zM115 412h5v5h-5zM144 412h5v5h-5zM120 417h5v5h-5zM134 417h5v5h-5zM115 422h5v4h-5zM144 422h5v4h-5zM149 422h5v4h-5zM182 422h5v4h-5zM110 426h5v5h-5zM125 426h5v5h-5zM182 431h5v5h-5zM110 436h5v5h-5zM182 436h5v5h-5zM149 441h5v4h-5zM110 445h5v5h-5zM154 445h4v5h-4zM182 450h5v5h-5zM110 455h5v5h-5zM139 455h5v5h-5zM154 455h4v5h-4zM168 455h5v5h-5zM178 455h4v5h-4zM110 460h5v4h-5zM115 460h5v4h-5zM139 460h5v4h-5zM158 460h5v4h-5zM168 460h5v4h-5zM182 460h5v4h-5zM110 464h5v5h-5zM115 464h5v5h-5zM158 464h5v5h-5zM115 469h5v5h-5zM149 469h5v5h-5zM168 469h5v5h-5zM173 469h5v5h-5zM120 474h5v5h-5zM125 479h5v4h-5zM134 479h5v4h-5zM173 479h5v4h-5zM178 479h4v4h-4zM125 483h5v5h-5zM173 483h5v5h-5zM139 488h5v5h-5zM182 488h5v5h-5zM173 573h5v5h-5zM163 578h5v5h-5zM173 578h5v5h-5zM168 583h5v5h-5zM178 583h4v5h-4zM144 588h5v4h-5zM163 592h5v5h-5zM173 592h5v5h-5zM149 597h5v5h-5zM154 597h4v5h-4zM168 597h5v5h-5zM149 602h5v4h-5zM158 602h5v4h-5zM163 602h5v4h-5zM173 602h5v4h-5zM178 602h4v4h-4zM154 616h4v5h-4zM149 621h5v4h-5zM139 625h5v5h-5zM120 630h5v5h-5zM158 630h5v5h-5zM163 630h5v5h-5zM173 630h5v5h-5zM110 635h5v5h-5zM134 635h5v5h-5zM168 635h5v5h-5zM120 640h5v4h-5zM139 640h5v4h-5zM144 640h5v4h-5zM168 640h5v4h-5zM173 640h5v4h-5zM120 644h5v5h-5zM154 644h4v5h-4zM173 644h5v5h-5zM178 644h4v5h-4zM125 649h5v5h-5zM130 649h4v5h-4zM139 654h5v5h-5zM154 654h4v5h-4zM154 659h4v4h-4zM178 659h4v4h-4zM182 659h5v4h-5zM163 668h5v5h-5zM182 668h5v5h-5zM110 673h5v5h-5zM120 673h5v5h-5zM125 673h5v5h-5zM139 673h5v5h-5zM158 673h5v5h-5zM182 673h5v5h-5zM130 678h4v4h-4zM134 678h5v4h-5zM149 678h5v4h-5zM178 678h4v4h-4zM110 682h5v5h-5zM130 682h4v5h-4zM149 682h5v5h-5zM154 682h4v5h-4zM134 687h5v5h-5zM144 687h5v5h-5zM134 692h5v4h-5zM158 692h5v4h-5zM182 692h5v4h-5zM110 696h5v5h-5zM125 696h5v5h-5zM139 696h5v5h-5zM178 696h4v5h-4zM139 701h5v5h-5zM110 706h5v5h-5zM120 706h5v5h-5zM163 706h5v5h-5zM144 711h5v4h-5zM182 711h5v4h-5zM154 715h4v5h-4zM163 715h5v5h-5zM120 720h5v5h-5zM134 720h5v5h-5zM144 720h5v5h-5zM149 720h5v5h-5zM149 725h5v5h-5zM182 725h5v5h-5zM154 730h4v4h-4zM173 730h5v4h-5zM178 734h4v5h-4zM125 739h5v5h-5zM130 739h4v5h-4zM134 739h5v5h-5zM139 739h5v5h-5zM154 739h4v5h-4zM115 744h5v5h-5zM120 744h5v5h-5zM163 744h5v5h-5zM168 744h5v5h-5zM115 749h5v4h-5zM144 749h5v4h-5zM163 749h5v4h-5zM125 758h5v5h-5zM144 758h5v5h-5zM173 758h5v5h-5zM154 763h4v4h-4zM110 767h5v5h-5zM144 767h5v5h-5zM173 767h5v5h-5zM178 767h4v5h-4zM139 772h5v5h-5zM154 772h4v5h-4zM163 772h5v5h-5zM182 772h5v5h-5zM110 777h5v5h-5zM163 777h5v5h-5zM120 782h5v4h-5zM125 782h5v4h-5zM149 782h5v4h-5zM110 786h5v5h-5zM134 786h5v5h-5zM139 786h5v5h-5zM163 786h5v5h-5zM173 786h5v5h-5zM182 786h5v5h-5zM139 791h5v5h-5zM110 796h5v5h-5zM173 796h5v5h-5zM182 796h5v5h-5zM110 801h5v4h-5zM163 801h5v4h-5zM168 801h5v4h-5zM125 805h5v5h-5zM173 805h5v5h-5zM120 810h5v5h-5zM163 810h5v5h-5zM163 815h5v5h-5zM168 815h5v5h-5zM158 820h5v4h-5zM163 820h5v4h-5zM125 824h5v5h-5zM168 824h5v5h-5zM178 824h4v5h-4zM173 829h5v5h-5zM182 829h5v5h-5zM154 834h4v5h-4zM163 834h5v5h-5zM168 834h5v5h-5zM154 843h4v5h-4zM173 843h5v5h-5zM154 848h4v5h-4zM139 853h5v4h-5zM154 853h4v4h-4zM130 857h4v5h-4zM139 857h5v5h-5zM154 862h4v5h-4zM158 862h5v5h-5zM139 867h5v5h-5zM163 867h5v5h-5zM144 872h5v4h-5zM178 881h4v5h-4zM115 886h5v5h-5zM125 886h5v5h-5zM130 886h4v5h-4zM154 886h4v5h-4zM125 891h5v4h-5zM144 891h5v4h-5zM115 895h5v5h-5zM130 900h4v5h-4zM130 905h4v5h-4zM144 910h5v4h-5zM149 910h5v4h-5zM154 910h4v4h-4zM182 910h5v4h-5zM149 914h5v5h-5zM173 914h5v5h-5zM120 919h5v5h-5zM144 919h5v5h-5zM158 919h5v5h-5zM110 929h5v4h-5zM163 929h5v4h-5zM168 929h5v4h-5zM115 933h5v5h-5zM139 933h5v5h-5zM144 933h5v5h-5zM149 933h5v5h-5zM158 933h5v5h-5zM115 938h5v5h-5zM168 938h5v5h-5zM149 943h5v4h-5zM163 943h5v4h-5zM130 952h4v5h-4zM134 952h5v5h-5zM149 952h5v5h-5zM110 957h5v5h-5zM110 962h5v4h-5zM144 962h5v4h-5zM154 962h4v4h-4zM158 962h5v4h-5zM149 966h5v5h-5zM158 966h5v5h-5zM168 966h5v5h-5zM115 971h5v5h-5zM130 976h4v5h-4zM139 976h5v5h-5zM149 976h5v5h-5zM178 976h4v5h-4zM130 981h4v4h-4zM130 985h4v5h-4zM149 985h5v5h-5zM154 985h4v5h-4zM115 990h5v5h-5zM120 990h5v5h-5zM149 990h5v5h-5zM158 990h5v5h-5zM182 990h5v5h-5zM115 995h5v5h-5zM125 995h5v5h-5zM149 1000h5v4h-5zM158 1000h5v4h-5zM163 1000h5v4h-5zM173 1000h5v4h-5zM139 1009h5v5h-5zM158 1009h5v5h-5zM182 1009h5v5h-5zM168 1014h5v4h-5zM110 1018h5v5h-5zM125 1018h5v5h-5zM173 1018h5v5h-5zM134 1023h5v5h-5zM178 1023h4v5h-4zM182 1023h5v5h-5zM149 1028h5v5h-5zM173 1198h5v5h-5z"/>
<path fill="#91d3a4" shape-rendering="crispEdges" d="M158 204h5v5h-5zM149 526h5v5h-5zM149 1071h5v4h-5zM178 1161h4v4h-4z"/>
<path fill="#e7f59b" shape-rendering="crispEdges" d="M163 204h5v5h-5zM154 209h4v4h-4zM158 209h5v4h-5zM168 213h5v5h-5zM168 228h5v4h-5zM173 228h5v4h-5zM178 228h4v4h-4zM168 232h5v5h-5zM178 232h4v5h-4zM173 237h5v5h-5zM178 237h4v5h-4zM168 242h5v5h-5zM158 247h5v4h-5zM158 256h5v5h-5zM149 270h5v5h-5zM163 275h5v5h-5zM149 280h5v4h-5zM115 289h5v5h-5zM120 299h5v4h-5zM154 299h4v4h-4zM158 299h5v4h-5zM125 303h5v5h-5zM134 303h5v5h-5zM115 313h5v5h-5zM173 313h5v5h-5zM110 322h5v5h-5zM125 327h5v5h-5zM134 346h5v5h-5zM154 346h4v5h-4zM149 360h5v5h-5zM158 450h5v5h-5zM130 488h4v5h-4zM110 493h5v5h-5zM130 498h4v4h-4zM173 507h5v5h-5zM120 512h5v4h-5zM149 521h5v5h-5zM144 535h5v5h-5zM178 535h4v5h-4zM125 640h5v4h-5zM163 640h5v4h-5zM115 654h5v5h-5zM125 654h5v5h-5zM178 654h4v5h-4zM149 663h5v5h-5zM115 668h5v5h-5zM144 668h5v5h-5zM168 701h5v5h-5zM178 711h4v4h-4zM173 725h5v5h-5zM173 744h5v5h-5zM120 749h5v4h-5zM168 753h5v5h-5zM115 791h5v5h-5zM173 815h5v5h-5zM154 829h4v5h-4zM173 834h5v5h-5zM173 848h5v5h-5zM173 857h5v5h-5zM149 881h5v5h-5zM110 905h5v5h-5zM173 905h5v5h-5zM178 905h4v5h-4zM134 910h5v4h-5zM134 914h5v5h-5zM154 924h4v5h-4zM158 924h5v5h-5zM144 929h5v4h-5zM158 938h5v5h-5zM173 947h5v5h-5zM182 947h5v5h-5zM178 952h4v5h-4zM182 952h5v5h-5zM120 957h5v5h-5zM154 966h4v5h-4zM182 971h5v5h-5zM134 976h5v5h-5zM154 976h4v5h-4zM120 981h5v4h-5zM154 981h4v4h-4zM158 981h5v4h-5zM154 995h4v5h-4zM134 1028h5v5h-5zM139 1028h5v5h-5zM158 1037h5v5h-5zM182 1047h5v5h-5zM168 1056h5v5h-5zM178 1075h4v5h-4zM149 1085h5v5h-5zM139 1090h5v4h-5zM158 1127h5v5h-5zM115 1142h5v4h-5zM173 1146h5v5h-5zM154 1180h4v4h-4zM149 1184h5v5h-5zM115 1203h5v5h-5zM173 1208h5v5h-5z"/>
<path fill="#f3f3b3" shape-rendering="crispEdges" d="M173 204h5v5h-5zM163 209h5v4h-5zM154 251h4v5h-4zM163 256h5v5h-5zM168 256h5v5h-5zM154 275h4v5h-4zM182 299h5v4h-5zM149 303h5v5h-5zM139 313h5v5h-5zM134 351h5v4h-5zM173 365h5v5h-5zM144 374h5v5h-5zM134 398h5v5h-5zM134 422h5v4h-5zM178 422h4v4h-4zM120 431h5v5h-5zM130 436h4v5h-4zM182 464h5v5h-5zM110 469h5v5h-5zM178 488h4v5h-4zM149 592h5v5h-5zM154 611h4v5h-4zM144 621h5v4h-5zM115 640h5v4h-5zM149 640h5v4h-5zM134 644h5v5h-5zM139 649h5v5h-5zM144 649h5v5h-5zM163 649h5v5h-5zM149 668h5v5h-5zM163 687h5v5h-5zM154 701h4v5h-4zM144 706h5v5h-5zM173 711h5v4h-5zM130 715h4v5h-4zM149 749h5v4h-5zM110 758h5v5h-5zM149 758h5v5h-5zM178 763h4v4h-4zM158 772h5v5h-5zM130 786h4v5h-4zM120 796h5v5h-5zM168 886h5v5h-5zM139 910h5v4h-5zM163 924h5v5h-5zM139 938h5v5h-5zM163 966h5v5h-5zM149 981h5v4h-5zM144 990h5v5h-5zM168 1004h5v5h-5zM173 1023h5v5h-5z"/>
<path fill="#fdbe6e" shape-rendering="crispEdges" d="M178 204h4v5h-4zM163 218h5v5h-5zM134 237h5v5h-5zM125 251h5v5h-5zM120 308h5v5h-5zM154 337h4v4h-4zM173 351h5v4h-5zM154 355h4v5h-4zM168 355h5v5h-5zM110 370h5v4h-5zM154 379h4v5h-4zM163 408h5v4h-5zM163 412h5v5h-5zM168 412h5v5h-5zM178 417h4v5h-4zM168 426h5v5h-5zM158 436h5v5h-5zM144 441h5v4h-5zM144 483h5v5h-5zM182 569h5v4h-5zM168 673h5v5h-5zM168 682h5v5h-5zM178 682h4v5h-4zM115 734h5v5h-5zM134 734h5v5h-5zM168 739h5v5h-5zM149 767h5v5h-5zM110 824h5v5h-5zM110 829h5v5h-5zM134 843h5v5h-5zM158 848h5v5h-5zM182 943h5v4h-5z"/>
<path fill="#fdc272" shape-rendering="crispEdges" d="M182 204h5v5h-5zM120 223h5v5h-5zM130 247h4v4h-4zM144 247h5v4h-5zM110 261h5v4h-5zM110 270h5v5h-5zM130 294h4v5h-4zM182 337h5v4h-5zM158 351h5v4h-5zM130 370h4v4h-4zM182 389h5v4h-5zM178 412h4v5h-4zM168 422h5v4h-5zM134 426h5v5h-5zM134 441h5v4h-5zM158 455h5v5h-5zM139 464h5v5h-5zM130 493h4v5h-4zM168 502h5v5h-5zM130 635h4v5h-4zM130 640h4v4h-4zM158 815h5v5h-5zM149 824h5v5h-5zM130 829h4v5h-4zM134 834h5v5h-5zM134 839h5v4h-5zM125 848h5v5h-5zM134 862h5v5h-5zM120 867h5v5h-5zM115 872h5v4h-5zM120 872h5v4h-5zM134 966h5v5h-5z"/>
<path fill="#fee08c" shape-rendering="crispEdges" d="M134 209h5v4h-5zM139 242h5v5h-5zM134 247h5v4h-5zM139 247h5v4h-5zM120 294h5v5h-5zM182 332h5v5h-5zM178 337h4v4h-4zM130 346h4v5h-4zM110 355h5v5h-5zM139 374h5v5h-5zM168 374h5v5h-5zM173 379h5v5h-5zM178 384h4v5h-4zM134 389h5v4h-5zM144 389h5v4h-5zM158 393h5v5h-5zM110 408h5v4h-5zM158 412h5v5h-5zM139 426h5v5h-5zM173 426h5v5h-5zM173 431h5v5h-5zM154 441h4v4h-4zM168 474h5v5h-5zM139 479h5v4h-5zM115 483h5v5h-5zM158 483h5v5h-5zM168 483h5v5h-5zM115 488h5v5h-5zM168 488h5v5h-5zM173 493h5v5h-5zM154 498h4v4h-4zM163 502h5v5h-5zM182 502h5v5h-5zM158 578h5v5h-5zM144 597h5v5h-5zM163 606h5v5h-5zM149 616h5v5h-5zM168 616h5v5h-5zM154 625h4v5h-4zM149 635h5v5h-5zM110 640h5v4h-5zM134 659h5v4h-5zM134 663h5v5h-5zM163 663h5v5h-5zM163 673h5v5h-5zM149 692h5v4h-5zM120 696h5v5h-5zM149 696h5v5h-5zM125 706h5v5h-5zM134 706h5v5h-5zM158 711h5v4h-5zM158 715h5v5h-5zM168 720h5v5h-5zM163 725h5v5h-5zM144 734h5v5h-5zM182 744h5v5h-5zM144 753h5v5h-5zM182 753h5v5h-5zM139 758h5v5h-5zM120 763h5v4h-5zM158 786h5v5h-5zM144 791h5v5h-5zM168 791h5v5h-5zM144 796h5v5h-5zM182 801h5v4h-5zM144 805h5v5h-5zM149 805h5v5h-5zM163 805h5v5h-5zM115 810h5v5h-5zM120 824h5v5h-5zM130 824h4v5h-4zM120 857h5v5h-5zM163 857h5v5h-5zM125 872h5v4h-5zM178 872h4v4h-4zM139 876h5v5h-5zM158 881h5v5h-5zM173 881h5v5h-5zM134 891h5v4h-5zM125 895h5v5h-5zM149 895h5v5h-5zM158 910h5v4h-5zM163 914h5v5h-5zM110 919h5v5h-5zM173 919h5v5h-5zM168 924h5v5h-5zM134 938h5v5h-5zM115 947h5v5h-5zM120 947h5v5h-5zM115 952h5v5h-5zM120 966h5v5h-5zM139 966h5v5h-5zM182 985h5v5h-5zM168 995h5v5h-5zM120 1000h5v4h-5zM139 1000h5v4h-5zM154 1018h4v5h-4zM149 1023h5v5h-5zM168 1023h5v5h-5z"/>
<path fill="#f8eca6" shape-rendering="crispEdges" d="M173 209h5v4h-5zM168 218h5v5h-5zM154 237h4v5h-4zM130 261h4v4h-4zM134 261h5v4h-5zM182 275h5v5h-5zM139 280h5v4h-5zM168 280h5v4h-5zM125 284h5v5h-5zM178 284h4v5h-4zM130 289h4v5h-4zM173 289h5v5h-5zM178 289h4v5h-4zM168 308h5v5h-5zM144 313h5v5h-5zM139 318h5v4h-5zM158 322h5v5h-5zM110 327h5v5h-5zM158 337h5v4h-5zM115 346h5v5h-5zM144 346h5v5h-5zM168 360h5v5h-5zM149 370h5v4h-5zM154 370h4v4h-4zM125 393h5v5h-5zM139 393h5v5h-5zM178 441h4v4h-4zM182 441h5v4h-5zM178 445h4v5h-4zM125 460h5v4h-5zM173 460h5v4h-5zM154 469h4v5h-4zM178 469h4v5h-4zM182 469h5v5h-5zM149 474h5v5h-5zM163 474h5v5h-5zM178 474h4v5h-4zM134 483h5v5h-5zM178 578h4v5h-4zM178 588h4v4h-4zM178 597h4v5h-4zM163 611h5v5h-5zM134 625h5v5h-5zM149 625h5v5h-5zM134 630h5v5h-5zM110 644h5v5h-5zM115 644h5v5h-5zM110 649h5v5h-5zM182 663h5v5h-5zM182 682h5v5h-5zM173 687h5v5h-5zM173 692h5v4h-5zM182 701h5v5h-5zM149 711h5v4h-5zM173 715h5v5h-5zM110 720h5v5h-5zM178 749h4v4h-4zM168 758h5v5h-5zM110 763h5v4h-5zM144 777h5v5h-5zM125 791h5v5h-5zM173 791h5v5h-5zM154 796h4v5h-4zM173 801h5v4h-5zM134 805h5v5h-5zM139 810h5v5h-5zM158 810h5v5h-5zM139 815h5v5h-5zM149 829h5v5h-5zM163 839h5v4h-5zM182 839h5v4h-5zM163 843h5v5h-5zM139 848h5v5h-5zM149 848h5v5h-5zM154 867h4v5h-4zM168 872h5v4h-5zM134 876h5v5h-5zM163 876h5v5h-5zM110 881h5v5h-5zM168 881h5v5h-5zM134 886h5v5h-5zM120 891h5v4h-5zM168 900h5v5h-5zM139 905h5v5h-5zM144 905h5v5h-5zM154 905h4v5h-4zM163 905h5v5h-5zM130 924h4v5h-4zM182 924h5v5h-5zM178 933h4v5h-4zM144 947h5v5h-5zM178 947h4v5h-4zM139 952h5v5h-5zM110 971h5v5h-5zM149 971h5v5h-5zM158 971h5v5h-5zM173 971h5v5h-5zM115 976h5v5h-5zM120 976h5v5h-5zM182 976h5v5h-5zM115 981h5v4h-5zM163 981h5v4h-5zM125 985h5v5h-5zM163 985h5v5h-5zM163 990h5v5h-5zM163 995h5v5h-5zM173 995h5v5h-5zM168 1000h5v4h-5zM173 1004h5v5h-5zM144 1009h5v5h-5zM139 1014h5v4h-5zM173 1014h5v4h-5z"/>
<path fill="#b5e1a2" shape-rendering="crispEdges" d="M125 213h5v5h-5zM134 464h5v5h-5zM154 540h4v5h-4zM139 611h5v5h-5zM178 777h4v5h-4zM144 1080h5v5h-5zM139 1113h5v5h-5zM182 1156h5v5h-5z"/>
<path fill="#f8eba2" shape-rendering="crispEdges" d="M139 213h5v5h-5zM182 242h5v5h-5zM130 275h4v5h-4zM173 275h5v5h-5zM154 280h4v4h-4zM154 318h4v4h-4zM163 332h5v5h-5zM115 341h5v5h-5zM182 360h5v5h-5zM110 365h5v5h-5zM178 389h4v4h-4zM163 464h5v5h-5zM158 469h5v5h-5zM154 602h4v4h-4zM168 654h5v5h-5zM182 654h5v5h-5zM130 659h4v4h-4zM173 663h5v5h-5zM178 663h4v5h-4zM110 668h5v5h-5zM154 668h4v5h-4zM158 668h5v5h-5zM110 692h5v4h-5zM168 706h5v5h-5zM154 753h4v5h-4zM125 786h5v5h-5zM144 824h5v5h-5zM144 914h5v5h-5zM144 971h5v5h-5zM115 985h5v5h-5zM139 985h5v5h-5zM134 990h5v5h-5zM134 995h5v5h-5zM134 1000h5v4h-5zM134 1014h5v4h-5zM173 1028h5v5h-5z"/>
<path fill="#fbe596" shape-rendering="crispEdges" d="M158 213h5v5h-5zM182 223h5v5h-5zM163 232h5v5h-5zM130 237h4v5h-4zM163 270h5v5h-5zM144 294h5v5h-5zM149 327h5v5h-5zM115 374h5v5h-5zM120 389h5v4h-5zM158 403h5v5h-5zM115 431h5v5h-5zM168 431h5v5h-5zM158 445h5v5h-5zM134 474h5v5h-5zM115 479h5v4h-5zM149 479h5v4h-5zM154 479h4v4h-4zM163 483h5v5h-5zM110 488h5v5h-5zM178 564h4v5h-4zM178 569h4v4h-4zM178 573h4v5h-4zM182 573h5v5h-5zM168 606h5v5h-5zM182 606h5v5h-5zM139 630h5v5h-5zM144 659h5v4h-5zM163 659h5v4h-5zM115 673h5v5h-5zM134 673h5v5h-5zM163 678h5v4h-5zM173 678h5v4h-5zM115 682h5v5h-5zM130 696h4v5h-4zM125 701h5v5h-5zM115 706h5v5h-5zM163 730h5v4h-5zM149 734h5v5h-5zM154 734h4v5h-4zM182 734h5v5h-5zM182 749h5v4h-5zM139 753h5v5h-5zM149 753h5v5h-5zM168 772h5v5h-5zM158 777h5v5h-5zM154 782h4v4h-4zM163 791h5v5h-5zM139 796h5v5h-5zM158 801h5v4h-5zM134 810h5v5h-5zM144 810h5v5h-5zM125 815h5v5h-5zM144 857h5v5h-5zM158 857h5v5h-5zM115 862h5v5h-5zM130 862h4v5h-4zM130 872h4v4h-4zM158 876h5v5h-5zM120 881h5v5h-5zM163 881h5v5h-5zM154 895h4v5h-4zM163 895h5v5h-5zM125 905h5v5h-5zM115 914h5v5h-5zM125 914h5v5h-5zM168 914h5v5h-5zM125 938h5v5h-5zM125 947h5v5h-5zM163 952h5v5h-5zM130 957h4v5h-4zM120 962h5v4h-5zM163 962h5v4h-5zM139 971h5v5h-5zM168 976h5v5h-5zM168 981h5v4h-5zM178 1000h4v4h-4zM125 1004h5v5h-5zM130 1004h4v5h-4zM115 1014h5v4h-5zM120 1014h5v4h-5zM125 1014h5v4h-5zM154 1014h4v4h-4zM182 1014h5v4h-5zM139 1018h5v5h-5zM158 1023h5v5h-5zM154 1028h4v5h-4z"/>
<path fill="#bee5a0" shape-rendering="crispEdges" d="M110 218h5v5h-5zM144 280h5v4h-5zM182 289h5v5h-5zM149 502h5v5h-5zM110 625h5v5h-5zM115 625h5v5h-5zM115 663h5v5h-5zM178 753h4v5h-4zM173 810h5v5h-5zM178 857h4v5h-4zM144 895h5v5h-5zM178 895h4v5h-4z"/>
<path fill="#f5f1af" shape-rendering="crispEdges" d="M115 218h5v5h-5zM144 223h5v5h-5zM158 223h5v5h-5zM163 223h5v5h-5zM158 228h5v4h-5zM168 237h5v5h-5zM134 251h5v5h-5zM149 251h5v5h-5zM158 251h5v5h-5zM125 256h5v5h-5zM178 256h4v5h-4zM144 261h5v4h-5zM125 265h5v5h-5zM144 265h5v5h-5zM158 265h5v5h-5zM158 270h5v5h-5zM168 270h5v5h-5zM173 270h5v5h-5zM134 275h5v5h-5zM158 275h5v5h-5zM154 284h4v5h-4zM168 284h5v5h-5zM110 289h5v5h-5zM139 289h5v5h-5zM134 294h5v5h-5zM110 299h5v4h-5zM139 299h5v4h-5zM144 299h5v4h-5zM168 299h5v4h-5zM110 303h5v5h-5zM144 308h5v5h-5zM158 308h5v5h-5zM173 308h5v5h-5zM125 313h5v5h-5zM115 318h5v4h-5zM120 318h5v4h-5zM158 318h5v4h-5zM163 318h5v4h-5zM130 322h4v5h-4zM149 322h5v5h-5zM163 322h5v5h-5zM173 322h5v5h-5zM115 327h5v5h-5zM139 327h5v5h-5zM168 327h5v5h-5zM182 327h5v5h-5zM120 332h5v5h-5zM144 332h5v5h-5zM158 332h5v5h-5zM168 332h5v5h-5zM168 337h5v4h-5zM130 341h4v5h-4zM134 341h5v5h-5zM139 341h5v5h-5zM125 346h5v5h-5zM144 355h5v5h-5zM149 355h5v5h-5zM182 365h5v5h-5zM115 370h5v4h-5zM134 370h5v4h-5zM158 370h5v4h-5zM125 384h5v5h-5zM158 384h5v5h-5zM173 384h5v5h-5zM130 389h4v4h-4zM173 389h5v4h-5zM168 393h5v5h-5zM115 398h5v5h-5zM173 398h5v5h-5zM182 398h5v5h-5zM115 403h5v5h-5zM125 403h5v5h-5zM134 408h5v4h-5zM139 408h5v4h-5zM178 408h4v4h-4zM120 412h5v5h-5zM139 412h5v5h-5zM115 417h5v5h-5zM130 417h4v5h-4zM149 426h5v5h-5zM125 431h5v5h-5zM168 436h5v5h-5zM168 441h5v4h-5zM173 441h5v4h-5zM163 445h5v5h-5zM168 445h5v5h-5zM173 445h5v5h-5zM182 445h5v5h-5zM115 455h5v5h-5zM120 455h5v5h-5zM120 460h5v4h-5zM120 469h5v5h-5zM182 479h5v4h-5zM120 488h5v5h-5zM134 488h5v5h-5zM110 498h5v4h-5zM115 498h5v4h-5zM120 498h5v4h-5zM154 583h4v5h-4zM158 583h5v5h-5zM163 583h5v5h-5zM173 583h5v5h-5zM149 588h5v4h-5zM168 592h5v5h-5zM178 592h4v5h-4zM182 592h5v5h-5zM163 597h5v5h-5zM173 597h5v5h-5zM182 602h5v4h-5zM178 606h4v5h-4zM149 611h5v5h-5zM158 611h5v5h-5zM178 611h4v5h-4zM182 611h5v5h-5zM144 616h5v5h-5zM139 621h5v4h-5zM163 621h5v4h-5zM182 621h5v4h-5zM163 625h5v5h-5zM173 625h5v5h-5zM182 625h5v5h-5zM149 630h5v5h-5zM154 635h4v5h-4zM163 635h5v5h-5zM154 640h4v4h-4zM178 640h4v4h-4zM139 644h5v5h-5zM144 644h5v5h-5zM168 649h5v5h-5zM173 649h5v5h-5zM182 649h5v5h-5zM130 654h4v5h-4zM168 659h5v4h-5zM173 659h5v4h-5zM154 663h4v5h-4zM168 663h5v5h-5zM125 668h5v5h-5zM130 668h4v5h-4zM178 673h4v5h-4zM125 678h5v4h-5zM139 678h5v4h-5zM163 682h5v5h-5zM110 687h5v5h-5zM120 687h5v5h-5zM168 687h5v5h-5zM125 692h5v4h-5zM115 696h5v5h-5zM134 696h5v5h-5zM110 701h5v5h-5zM144 701h5v5h-5zM158 701h5v5h-5zM173 706h5v5h-5zM110 711h5v4h-5zM115 711h5v4h-5zM120 711h5v4h-5zM154 711h4v4h-4zM163 711h5v4h-5zM110 715h5v5h-5zM115 715h5v5h-5zM125 715h5v5h-5zM134 715h5v5h-5zM139 715h5v5h-5zM144 715h5v5h-5zM168 715h5v5h-5zM130 720h4v5h-4zM115 725h5v5h-5zM139 725h5v5h-5zM144 725h5v5h-5zM168 725h5v5h-5zM115 730h5v4h-5zM125 730h5v4h-5zM139 730h5v4h-5zM125 734h5v5h-5zM139 734h5v5h-5zM158 739h5v5h-5zM163 739h5v5h-5zM139 744h5v5h-5zM115 753h5v5h-5zM134 753h5v5h-5zM115 758h5v5h-5zM154 758h4v5h-4zM115 763h5v4h-5zM134 763h5v4h-5zM168 763h5v4h-5zM173 763h5v4h-5zM163 767h5v5h-5zM144 772h5v5h-5zM149 777h5v5h-5zM154 777h4v5h-4zM134 782h5v4h-5zM115 786h5v5h-5zM149 786h5v5h-5zM178 786h4v5h-4zM110 791h5v5h-5zM158 791h5v5h-5zM115 796h5v5h-5zM134 796h5v5h-5zM168 796h5v5h-5zM115 801h5v4h-5zM130 801h4v4h-4zM139 801h5v4h-5zM144 801h5v4h-5zM110 805h5v5h-5zM115 805h5v5h-5zM120 805h5v5h-5zM158 805h5v5h-5zM115 815h5v5h-5zM130 815h4v5h-4zM134 815h5v5h-5zM120 820h5v4h-5zM125 820h5v4h-5zM154 824h4v5h-4zM163 824h5v5h-5zM139 829h5v5h-5zM144 829h5v5h-5zM139 834h5v5h-5zM158 834h5v5h-5zM139 839h5v4h-5zM158 839h5v4h-5zM173 839h5v4h-5zM139 843h5v5h-5zM168 843h5v5h-5zM178 843h4v5h-4zM168 848h5v5h-5zM130 853h4v4h-4zM134 853h5v4h-5zM163 853h5v4h-5zM149 862h5v5h-5zM110 867h5v5h-5zM168 867h5v5h-5zM163 872h5v4h-5zM120 876h5v5h-5zM130 876h4v5h-4zM144 876h5v5h-5zM178 876h4v5h-4zM182 876h5v5h-5zM139 881h5v5h-5zM115 891h5v4h-5zM139 891h5v4h-5zM173 891h5v4h-5zM134 895h5v5h-5zM163 900h5v5h-5zM158 905h5v5h-5zM168 905h5v5h-5zM130 910h4v4h-4zM173 910h5v4h-5zM149 919h5v5h-5zM182 919h5v5h-5zM125 924h5v5h-5zM139 924h5v5h-5zM149 924h5v5h-5zM178 924h4v5h-4zM120 929h5v4h-5zM125 929h5v4h-5zM130 929h4v4h-4zM134 929h5v4h-5zM158 929h5v4h-5zM178 929h4v4h-4zM130 933h4v5h-4zM173 933h5v5h-5zM139 943h5v4h-5zM134 947h5v5h-5zM139 947h5v5h-5zM154 947h4v5h-4zM163 947h5v5h-5zM120 952h5v5h-5zM125 952h5v5h-5zM144 952h5v5h-5zM125 957h5v5h-5zM134 957h5v5h-5zM149 957h5v5h-5zM163 957h5v5h-5zM134 962h5v4h-5zM144 966h5v5h-5zM120 971h5v5h-5zM125 976h5v5h-5zM182 981h5v4h-5zM134 985h5v5h-5zM125 990h5v5h-5zM139 990h5v5h-5zM178 990h4v5h-4zM110 995h5v5h-5zM130 995h4v5h-4zM178 995h4v5h-4zM110 1000h5v4h-5zM125 1000h5v4h-5zM134 1004h5v5h-5zM158 1004h5v5h-5zM110 1014h5v4h-5zM115 1018h5v5h-5zM130 1018h4v5h-4zM134 1018h5v5h-5zM144 1018h5v5h-5zM144 1023h5v5h-5zM158 1028h5v5h-5zM178 1028h4v5h-4z"/>
<path fill="#fdc675" shape-rendering="crispEdges" d="M130 218h4v5h-4zM125 223h5v5h-5zM130 232h4v5h-4zM139 237h5v5h-5zM158 355h5v5h-5zM125 360h5v5h-5zM144 379h5v5h-5zM178 379h4v5h-4zM130 393h4v5h-4zM173 422h5v4h-5zM144 431h5v5h-5zM144 436h5v5h-5zM158 441h5v4h-5zM149 460h5v4h-5zM130 474h4v5h-4zM163 479h5v4h-5zM115 824h5v5h-5zM110 834h5v5h-5zM149 857h5v5h-5zM120 1004h5v5h-5z"/>
<path fill="#fb9f5a" shape-rendering="crispEdges" d="M134 218h5v5h-5zM130 228h4v4h-4zM139 379h5v5h-5zM154 398h4v5h-4zM182 564h5v5h-5zM120 753h5v5h-5zM120 839h5v4h-5z"/>
<path fill="#fdb265" shape-rendering="crispEdges" d="M139 218h5v5h-5zM125 247h5v4h-5zM149 398h5v5h-5z"/>
<path fill="#ccea9d" shape-rendering="crispEdges" d="M144 218h5v5h-5zM163 242h5v5h-5zM125 445h5v5h-5zM120 663h5v5h-5zM178 720h4v5h-4zM178 725h4v5h-4zM173 853h5v4h-5zM173 862h5v5h-5zM182 895h5v5h-5zM168 943h5v4h-5z"/>
<path fill="#c7e89e" shape-rendering="crispEdges" d="M149 218h5v5h-5zM182 294h5v5h-5zM115 322h5v5h-5zM115 441h5v4h-5zM134 469h5v5h-5zM149 498h5v4h-5zM134 502h5v5h-5zM125 625h5v5h-5zM120 649h5v5h-5zM120 659h5v4h-5zM110 739h5v5h-5zM134 777h5v5h-5zM173 782h5v4h-5zM178 782h4v4h-4zM178 839h4v4h-4zM182 862h5v5h-5zM173 952h5v5h-5zM178 962h4v4h-4zM173 966h5v5h-5zM178 966h4v5h-4z"/>
<path fill="#daf09b" shape-rendering="crispEdges" d="M154 218h4v5h-4zM115 337h5v4h-5zM168 573h5v5h-5zM158 640h5v4h-5zM134 900h5v5h-5zM134 1213h5v4h-5z"/>
<path fill="#fbe699" shape-rendering="crispEdges" d="M110 223h5v5h-5zM134 256h5v5h-5zM149 256h5v5h-5zM173 261h5v4h-5zM154 313h4v5h-4zM154 327h4v5h-4zM154 393h4v5h-4zM182 403h5v5h-5zM178 436h4v5h-4zM173 588h5v4h-5zM173 616h5v5h-5zM158 621h5v4h-5zM120 701h5v5h-5zM154 744h4v5h-4zM158 782h5v4h-5zM154 815h4v5h-4zM134 829h5v5h-5zM134 867h5v5h-5zM173 872h5v4h-5zM115 910h5v4h-5zM130 943h4v4h-4zM110 976h5v5h-5zM163 1014h5v4h-5zM168 1018h5v5h-5z"/>
<path fill="#f99053" shape-rendering="crispEdges" d="M115 223h5v5h-5zM130 223h4v5h-4zM134 242h5v5h-5zM134 360h5v5h-5zM154 403h4v5h-4zM158 426h5v5h-5zM158 431h5v5h-5zM163 493h5v5h-5zM173 498h5v4h-5zM182 498h5v4h-5zM120 829h5v5h-5zM125 834h5v5h-5zM110 857h5v5h-5z"/>
<path fill="#fdb668" shape-rendering="crispEdges" d="M134 223h5v5h-5zM173 370h5v4h-5zM149 389h5v4h-5zM158 417h5v5h-5zM144 426h5v5h-5zM168 777h5v5h-5z"/>
<path fill="#de4c4c" shape-rendering="crispEdges" d="M139 223h5v5h-5zM125 232h5v5h-5zM120 370h5v4h-5zM144 384h5v5h-5zM173 502h5v5h-5z"/>
<path fill="#eaf49f" shape-rendering="crispEdges" d="M168 223h5v5h-5zM144 289h5v5h-5zM163 299h5v4h-5zM125 389h5v4h-5zM115 450h5v5h-5zM139 777h5v5h-5zM144 839h5v4h-5zM110 933h5v5h-5zM158 985h5v5h-5zM154 1094h4v5h-4zM144 1099h5v5h-5zM125 1113h5v5h-5zM158 1165h5v5h-5z"/>
<path fill="#e9f59d" shape-rendering="crispEdges" d="M173 223h5v5h-5zM173 232h5v5h-5zM173 242h5v5h-5zM163 247h5v4h-5zM149 275h5v5h-5zM149 284h5v5h-5zM115 299h5v4h-5zM110 313h5v5h-5zM110 318h5v4h-5zM149 337h5v4h-5zM149 351h5v4h-5zM130 445h4v5h-4zM120 450h5v5h-5zM173 450h5v5h-5zM139 502h5v5h-5zM178 507h4v5h-4zM115 512h5v4h-5zM182 545h5v5h-5zM168 602h5v4h-5zM115 606h5v5h-5zM125 644h5v5h-5zM110 659h5v4h-5zM139 682h5v5h-5zM158 682h5v5h-5zM130 687h4v5h-4zM149 687h5v5h-5zM178 715h4v5h-4zM182 715h5v5h-5zM125 725h5v5h-5zM130 749h4v4h-4zM125 767h5v5h-5zM120 791h5v5h-5zM130 810h4v5h-4zM149 891h5v4h-5zM110 895h5v5h-5zM139 895h5v5h-5zM173 895h5v5h-5zM173 900h5v5h-5zM163 919h5v5h-5zM168 947h5v5h-5zM154 971h4v5h-4zM178 971h4v5h-4zM144 976h5v5h-5zM178 985h4v5h-4zM182 1085h5v5h-5zM139 1156h5v5h-5zM149 1208h5v5h-5z"/>
<path fill="#fedd89" shape-rendering="crispEdges" d="M110 228h5v4h-5zM130 242h4v5h-4zM110 256h5v5h-5zM130 284h4v5h-4zM154 332h4v5h-4zM163 426h5v5h-5zM149 445h5v5h-5zM130 455h4v5h-4zM149 455h5v5h-5zM110 479h5v4h-5zM125 493h5v5h-5zM110 512h5v4h-5zM168 611h5v5h-5zM178 616h4v5h-4zM173 621h5v4h-5zM178 635h4v5h-4zM125 663h5v5h-5zM115 678h5v4h-5zM144 730h5v4h-5zM120 734h5v5h-5zM134 767h5v5h-5zM182 767h5v5h-5zM130 782h4v4h-4zM144 782h5v4h-5zM144 815h5v5h-5zM149 853h5v4h-5zM120 862h5v5h-5zM130 891h4v4h-4zM158 895h5v5h-5zM163 910h5v4h-5zM154 1023h4v5h-4z"/>
<path fill="#ef6545" shape-rendering="crispEdges" d="M115 228h5v4h-5zM125 228h5v4h-5zM115 232h5v5h-5zM125 365h5v5h-5zM130 365h4v5h-4zM110 379h5v5h-5zM144 398h5v5h-5zM110 441h5v4h-5zM144 445h5v5h-5zM110 507h5v5h-5zM115 839h5v4h-5zM130 839h4v4h-4zM115 848h5v5h-5z"/>
<path fill="#ea5e47" shape-rendering="crispEdges" d="M120 228h5v4h-5z"/>
<path fill="#f16944" shape-rendering="crispEdges" d="M134 228h5v4h-5zM120 242h5v5h-5zM120 247h5v4h-5zM120 251h5v5h-5zM115 261h5v4h-5zM115 265h5v5h-5zM178 346h4v5h-4zM125 355h5v5h-5zM130 355h4v5h-4zM134 379h5v5h-5zM130 384h4v5h-4zM139 384h5v5h-5zM149 403h5v5h-5zM154 412h4v5h-4zM120 834h5v5h-5zM110 839h5v4h-5z"/>
<path fill="#fca45d" shape-rendering="crispEdges" d="M139 228h5v4h-5z"/>
<path fill="#fa9a58" shape-rendering="crispEdges" d="M163 228h5v4h-5zM110 232h5v5h-5zM110 265h5v5h-5zM110 275h5v5h-5zM173 341h5v5h-5zM182 346h5v5h-5zM125 370h5v4h-5zM125 374h5v5h-5zM154 417h4v5h-4zM139 431h5v5h-5zM139 474h5v5h-5zM115 829h5v5h-5zM125 829h5v5h-5zM125 839h5v4h-5zM115 843h5v5h-5zM110 848h5v5h-5zM154 900h4v5h-4z"/>
<path fill="#d9444d" shape-rendering="crispEdges" d="M120 232h5v5h-5zM110 237h5v5h-5zM125 237h5v5h-5zM115 242h5v5h-5zM110 251h5v5h-5zM115 251h5v5h-5zM115 256h5v5h-5zM178 341h4v5h-4zM120 374h5v5h-5zM115 384h5v5h-5zM134 384h5v5h-5zM120 843h5v5h-5z"/>
<path fill="#fa9556" shape-rendering="crispEdges" d="M134 232h5v5h-5zM163 355h5v5h-5zM110 374h5v5h-5zM130 379h4v5h-4zM115 389h5v4h-5zM158 422h5v4h-5zM149 431h5v5h-5zM144 450h5v5h-5zM154 488h4v5h-4zM158 488h5v5h-5zM125 498h5v4h-5zM182 559h5v5h-5zM130 843h4v5h-4zM120 848h5v5h-5zM182 938h5v5h-5z"/>
<path fill="#dc484c" shape-rendering="crispEdges" d="M139 232h5v5h-5zM182 341h5v5h-5zM168 351h5v4h-5zM120 360h5v5h-5zM120 365h5v5h-5zM120 379h5v5h-5zM120 384h5v5h-5zM110 389h5v4h-5zM154 422h4v4h-4zM163 498h5v4h-5z"/>
<path fill="#e04f4b" shape-rendering="crispEdges" d="M120 237h5v5h-5zM168 346h5v5h-5zM154 426h4v5h-4zM125 843h5v5h-5z"/>
<path fill="#fae89c" shape-rendering="crispEdges" d="M144 237h5v5h-5zM168 370h5v4h-5zM154 389h4v4h-4zM110 398h5v5h-5zM110 422h5v4h-5zM163 488h5v5h-5zM149 739h5v5h-5zM168 782h5v4h-5zM168 862h5v5h-5zM178 919h4v5h-4zM130 962h4v4h-4zM144 985h5v5h-5z"/>
<path fill="#d43d4f" shape-rendering="crispEdges" d="M110 242h5v5h-5z"/>
<path fill="#ec6246" shape-rendering="crispEdges" d="M110 247h5v4h-5zM163 351h5v4h-5zM110 412h5v5h-5zM139 450h5v5h-5zM130 834h4v5h-4zM130 848h4v5h-4zM110 853h5v4h-5z"/>
<path fill="#b61b48" shape-rendering="crispEdges" d="M115 247h5v4h-5zM110 417h5v5h-5zM154 436h4v5h-4z"/>
<path fill="#d7414e" shape-rendering="crispEdges" d="M120 256h5v5h-5zM110 384h5v5h-5zM139 441h5v4h-5zM158 498h5v4h-5z"/>
<path fill="#f2f3b1" shape-rendering="crispEdges" d="M154 265h4v5h-4zM130 706h4v5h-4zM125 763h5v4h-5zM130 919h4v5h-4zM120 938h5v5h-5zM154 943h4v4h-4zM115 962h5v4h-5zM144 1004h5v5h-5zM158 1014h5v4h-5zM168 1028h5v5h-5z"/>
<path fill="#c3e79f" shape-rendering="crispEdges" d="M144 284h5v5h-5zM182 313h5v5h-5zM139 351h5v4h-5zM182 370h5v4h-5zM115 436h5v5h-5zM125 441h5v4h-5zM149 493h5v5h-5zM134 498h5v4h-5zM130 502h4v5h-4zM120 654h5v5h-5zM168 692h5v4h-5zM115 772h5v5h-5zM120 777h5v5h-5zM178 796h4v5h-4zM178 815h4v5h-4zM182 886h5v5h-5zM144 900h5v5h-5zM178 900h4v5h-4zM182 900h5v5h-5zM173 962h5v4h-5z"/>
<path fill="#fdba6b" shape-rendering="crispEdges" d="M134 289h5v5h-5zM178 351h4v4h-4zM154 360h4v5h-4zM125 379h5v5h-5zM182 384h5v5h-5zM149 450h5v5h-5zM149 483h5v5h-5zM158 493h5v5h-5zM120 758h5v5h-5zM115 857h5v5h-5z"/>
<path fill="#fed985" shape-rendering="crispEdges" d="M178 299h4v4h-4zM130 431h4v5h-4zM182 763h5v4h-5zM163 796h5v5h-5zM158 872h5v4h-5zM168 985h5v5h-5zM163 1018h5v5h-5z"/>
<path fill="#b9e3a1" shape-rendering="crispEdges" d="M178 313h4v5h-4zM130 327h4v5h-4zM134 460h5v4h-5zM125 469h5v5h-5zM125 502h5v5h-5zM115 659h5v4h-5zM173 739h5v5h-5zM173 820h5v4h-5zM173 824h5v5h-5zM182 853h5v4h-5zM173 957h5v5h-5zM110 1061h5v5h-5z"/>
<path fill="#f9e99f" shape-rendering="crispEdges" d="M134 337h5v4h-5zM173 337h5v4h-5zM182 417h5v5h-5zM139 635h5v5h-5zM158 644h5v5h-5zM154 929h4v4h-4z"/>
<path fill="#b11647" shape-rendering="crispEdges" d="M173 346h5v5h-5zM178 502h4v5h-4z"/>
<path fill="#d5ee9b" shape-rendering="crispEdges" d="M139 355h5v5h-5z"/>
<path fill="#f57747" shape-rendering="crispEdges" d="M115 365h5v5h-5z"/>
<path fill="#feca78" shape-rendering="crispEdges" d="M130 374h4v5h-4zM149 393h5v5h-5zM158 408h5v4h-5zM168 408h5v4h-5zM173 417h5v5h-5zM144 455h5v5h-5zM130 644h4v5h-4zM173 734h5v5h-5zM115 739h5v5h-5zM149 796h5v5h-5zM120 853h5v4h-5zM125 853h5v4h-5zM130 1009h4v5h-4z"/>
<path fill="#f57245" shape-rendering="crispEdges" d="M110 393h5v5h-5zM139 436h5v5h-5zM168 498h5v4h-5zM115 834h5v5h-5z"/>
<path fill="#fed27f" shape-rendering="crispEdges" d="M163 417h5v5h-5z"/>
<path fill="#f88b51" shape-rendering="crispEdges" d="M134 431h5v5h-5zM168 493h5v5h-5z"/>
<path fill="#fca95f" shape-rendering="crispEdges" d="M134 436h5v5h-5z"/>
<path fill="#fece7c" shape-rendering="crispEdges" d="M173 474h5v5h-5z"/>
<path fill="#ebf4a1" shape-rendering="crispEdges" d="M134 493h5v5h-5zM120 995h5v5h-5zM134 1127h5v5h-5z"/>
<path fill="#3a7eb8" shape-rendering="crispEdges" d="M130 535h4v5h-4zM125 573h5v5h-5zM125 578h5v5h-5zM168 1047h5v5h-5zM125 1080h5v5h-5zM154 1085h4v5h-4zM158 1090h5v4h-5zM173 1113h5v5h-5zM173 1118h5v5h-5zM120 1142h5v4h-5z"/>
<path fill="#3d79b6" shape-rendering="crispEdges" d="M130 540h4v5h-4zM144 559h5v5h-5zM173 1047h5v5h-5zM173 1052h5v4h-5zM120 1080h5v5h-5zM134 1099h5v5h-5zM134 1104h5v4h-5zM120 1146h5v5h-5zM158 1156h5v5h-5zM134 1170h5v5h-5zM173 1184h5v5h-5zM149 1198h5v5h-5zM125 1203h5v5h-5z"/>
<path fill="#fed582" shape-rendering="crispEdges" d="M134 730h5v4h-5zM173 976h5v5h-5z"/>
<path fill="#d0ec9c" shape-rendering="crispEdges" d="M110 753h5v5h-5z"/>
<path fill="#f1f3af" shape-rendering="crispEdges" d="M110 772h5v5h-5z"/>
<path fill="#59b4ab" shape-rendering="crispEdges" d="M173 1123h5v4h-5z"/>
<rect x="110.5" y="123.4" width="76.70" height="1094.00" fill="none" stroke="#262626" stroke-width="2"/>
<path d="M110.5 1215.50h11M187.2 1215.50h-11M110.5 1073.33h11M187.2 1073.33h-11M110.5 931.16h11M187.2 931.16h-11M110.5 788.99h11M187.2 788.99h-11M110.5 646.82h11M187.2 646.82h-11M110.5 504.65h11M187.2 504.65h-11M110.5 362.48h11M187.2 362.48h-11M110.5 220.31h11M187.2 220.31h-11M112.90 123.4v11M112.90 1217.4v-11M160.80 123.4v11M160.80 1217.4v-11" stroke="#262626" stroke-width="1.4" fill="none"/>
<text x="98" y="1227.0" font-size="33" text-anchor="end" font-weight="normal" font-style="normal" fill="#000" >0</text>
<text x="98" y="1084.83" font-size="33" text-anchor="end" font-weight="normal" font-style="normal" fill="#000" >0.3</text>
<text x="98" y="942.6600000000001" font-size="33" text-anchor="end" font-weight="normal" font-style="normal" fill="#000" >0.6</text>
<text x="98" y="800.49" font-size="33" text-anchor="end" font-weight="normal" font-style="normal" fill="#000" >0.9</text>
<text x="98" y="658.32" font-size="33" text-anchor="end" font-weight="normal" font-style="normal" fill="#000" >1.2</text>
<text x="98" y="516.1500000000001" font-size="33" text-anchor="end" font-weight="normal" font-style="normal" fill="#000" >1.5</text>
<text x="98" y="373.98" font-size="33" text-anchor="end" font-weight="normal" font-style="normal" fill="#000" >1.8</text>
<text x="98" y="231.81000000000006" font-size="33" text-anchor="end" font-weight="normal" font-style="normal" fill="#000" >2.1</text>
<text x="112.9" y="1255" font-size="33" text-anchor="middle" font-weight="normal" font-style="normal" fill="#000" >0</text>
<text x="160.8" y="1255" font-size="33" text-anchor="middle" font-weight="normal" font-style="normal" fill="#000" >0.1</text>
<text x="149" y="1301.2" font-size="33" text-anchor="middle"><tspan font-style="italic">x</tspan> (mm)</text>
<text transform="translate(27.6,669.8) rotate(-90)" font-size="33" text-anchor="middle"><tspan font-style="italic">y</tspan> (mm)</text>
<rect x="201.4" y="1209.16" width="11.80" height="9.44" fill="#5c51a3" shape-rendering="crispEdges"/>
<rect x="201.4" y="1200.61" width="11.80" height="9.44" fill="#5956a5" shape-rendering="crispEdges"/>
<rect x="201.4" y="1192.07" width="11.80" height="9.44" fill="#555aa7" shape-rendering="crispEdges"/>
<rect x="201.4" y="1183.52" width="11.80" height="9.44" fill="#525fa9" shape-rendering="crispEdges"/>
<rect x="201.4" y="1174.98" width="11.80" height="9.44" fill="#4f63ab" shape-rendering="crispEdges"/>
<rect x="201.4" y="1166.43" width="11.80" height="9.44" fill="#4b67ae" shape-rendering="crispEdges"/>
<rect x="201.4" y="1157.89" width="11.80" height="9.44" fill="#486cb0" shape-rendering="crispEdges"/>
<rect x="201.4" y="1149.34" width="11.80" height="9.44" fill="#4470b2" shape-rendering="crispEdges"/>
<rect x="201.4" y="1140.80" width="11.80" height="9.44" fill="#4175b4" shape-rendering="crispEdges"/>
<rect x="201.4" y="1132.25" width="11.80" height="9.44" fill="#3d79b6" shape-rendering="crispEdges"/>
<rect x="201.4" y="1123.71" width="11.80" height="9.44" fill="#3a7eb8" shape-rendering="crispEdges"/>
<rect x="201.4" y="1115.16" width="11.80" height="9.44" fill="#3682ba" shape-rendering="crispEdges"/>
<rect x="201.4" y="1106.62" width="11.80" height="9.44" fill="#3387bc" shape-rendering="crispEdges"/>
<rect x="201.4" y="1098.08" width="11.80" height="9.44" fill="#358bbc" shape-rendering="crispEdges"/>
<rect x="201.4" y="1089.53" width="11.80" height="9.44" fill="#3990ba" shape-rendering="crispEdges"/>
<rect x="201.4" y="1080.99" width="11.80" height="9.44" fill="#3d94b8" shape-rendering="crispEdges"/>
<rect x="201.4" y="1072.44" width="11.80" height="9.44" fill="#4199b6" shape-rendering="crispEdges"/>
<rect x="201.4" y="1063.90" width="11.80" height="9.44" fill="#459db4" shape-rendering="crispEdges"/>
<rect x="201.4" y="1055.35" width="11.80" height="9.44" fill="#49a2b2" shape-rendering="crispEdges"/>
<rect x="201.4" y="1046.81" width="11.80" height="9.44" fill="#4da6b0" shape-rendering="crispEdges"/>
<rect x="201.4" y="1038.26" width="11.80" height="9.44" fill="#51abaf" shape-rendering="crispEdges"/>
<rect x="201.4" y="1029.72" width="11.80" height="9.44" fill="#55afad" shape-rendering="crispEdges"/>
<rect x="201.4" y="1021.17" width="11.80" height="9.44" fill="#59b4ab" shape-rendering="crispEdges"/>
<rect x="201.4" y="1012.63" width="11.80" height="9.44" fill="#5db8a9" shape-rendering="crispEdges"/>
<rect x="201.4" y="1004.09" width="11.80" height="9.44" fill="#62bda7" shape-rendering="crispEdges"/>
<rect x="201.4" y="995.54" width="11.80" height="9.44" fill="#66c2a5" shape-rendering="crispEdges"/>
<rect x="201.4" y="987.00" width="11.80" height="9.44" fill="#6bc4a5" shape-rendering="crispEdges"/>
<rect x="201.4" y="978.45" width="11.80" height="9.44" fill="#70c6a5" shape-rendering="crispEdges"/>
<rect x="201.4" y="969.91" width="11.80" height="9.44" fill="#76c8a5" shape-rendering="crispEdges"/>
<rect x="201.4" y="961.36" width="11.80" height="9.44" fill="#7bcaa5" shape-rendering="crispEdges"/>
<rect x="201.4" y="952.82" width="11.80" height="9.44" fill="#80cca5" shape-rendering="crispEdges"/>
<rect x="201.4" y="944.27" width="11.80" height="9.44" fill="#86cea5" shape-rendering="crispEdges"/>
<rect x="201.4" y="935.73" width="11.80" height="9.44" fill="#8bd1a4" shape-rendering="crispEdges"/>
<rect x="201.4" y="927.18" width="11.80" height="9.44" fill="#91d3a4" shape-rendering="crispEdges"/>
<rect x="201.4" y="918.64" width="11.80" height="9.44" fill="#96d5a4" shape-rendering="crispEdges"/>
<rect x="201.4" y="910.09" width="11.80" height="9.44" fill="#9bd7a4" shape-rendering="crispEdges"/>
<rect x="201.4" y="901.55" width="11.80" height="9.44" fill="#a1d9a4" shape-rendering="crispEdges"/>
<rect x="201.4" y="893.01" width="11.80" height="9.44" fill="#a6dba4" shape-rendering="crispEdges"/>
<rect x="201.4" y="884.46" width="11.80" height="9.44" fill="#abdda4" shape-rendering="crispEdges"/>
<rect x="201.4" y="875.92" width="11.80" height="9.44" fill="#b0dfa3" shape-rendering="crispEdges"/>
<rect x="201.4" y="867.37" width="11.80" height="9.44" fill="#b5e1a2" shape-rendering="crispEdges"/>
<rect x="201.4" y="858.83" width="11.80" height="9.44" fill="#b9e3a1" shape-rendering="crispEdges"/>
<rect x="201.4" y="850.28" width="11.80" height="9.44" fill="#bee5a0" shape-rendering="crispEdges"/>
<rect x="201.4" y="841.74" width="11.80" height="9.44" fill="#c3e79f" shape-rendering="crispEdges"/>
<rect x="201.4" y="833.19" width="11.80" height="9.44" fill="#c7e89e" shape-rendering="crispEdges"/>
<rect x="201.4" y="824.65" width="11.80" height="9.44" fill="#ccea9d" shape-rendering="crispEdges"/>
<rect x="201.4" y="816.10" width="11.80" height="9.44" fill="#d0ec9c" shape-rendering="crispEdges"/>
<rect x="201.4" y="807.56" width="11.80" height="9.44" fill="#d5ee9b" shape-rendering="crispEdges"/>
<rect x="201.4" y="799.01" width="11.80" height="9.44" fill="#daf09b" shape-rendering="crispEdges"/>
<rect x="201.4" y="790.47" width="11.80" height="9.44" fill="#def29a" shape-rendering="crispEdges"/>
<rect x="201.4" y="781.93" width="11.80" height="9.44" fill="#e3f499" shape-rendering="crispEdges"/>
<rect x="201.4" y="773.38" width="11.80" height="9.44" fill="#e6f599" shape-rendering="crispEdges"/>
<rect x="201.4" y="764.84" width="11.80" height="9.44" fill="#e7f59b" shape-rendering="crispEdges"/>
<rect x="201.4" y="756.29" width="11.80" height="9.44" fill="#e9f59d" shape-rendering="crispEdges"/>
<rect x="201.4" y="747.75" width="11.80" height="9.44" fill="#eaf49f" shape-rendering="crispEdges"/>
<rect x="201.4" y="739.20" width="11.80" height="9.44" fill="#ebf4a1" shape-rendering="crispEdges"/>
<rect x="201.4" y="730.66" width="11.80" height="9.44" fill="#ecf4a4" shape-rendering="crispEdges"/>
<rect x="201.4" y="722.11" width="11.80" height="9.44" fill="#edf4a6" shape-rendering="crispEdges"/>
<rect x="201.4" y="713.57" width="11.80" height="9.44" fill="#eef4a8" shape-rendering="crispEdges"/>
<rect x="201.4" y="705.02" width="11.80" height="9.44" fill="#eff4aa" shape-rendering="crispEdges"/>
<rect x="201.4" y="696.48" width="11.80" height="9.44" fill="#f0f4ac" shape-rendering="crispEdges"/>
<rect x="201.4" y="687.94" width="11.80" height="9.44" fill="#f1f3af" shape-rendering="crispEdges"/>
<rect x="201.4" y="679.39" width="11.80" height="9.44" fill="#f2f3b1" shape-rendering="crispEdges"/>
<rect x="201.4" y="670.85" width="11.80" height="9.44" fill="#f3f3b3" shape-rendering="crispEdges"/>
<rect x="201.4" y="662.30" width="11.80" height="9.44" fill="#f4f2b2" shape-rendering="crispEdges"/>
<rect x="201.4" y="653.76" width="11.80" height="9.44" fill="#f5f1af" shape-rendering="crispEdges"/>
<rect x="201.4" y="645.21" width="11.80" height="9.44" fill="#f6efac" shape-rendering="crispEdges"/>
<rect x="201.4" y="636.67" width="11.80" height="9.44" fill="#f7eea9" shape-rendering="crispEdges"/>
<rect x="201.4" y="628.12" width="11.80" height="9.44" fill="#f8eca6" shape-rendering="crispEdges"/>
<rect x="201.4" y="619.58" width="11.80" height="9.44" fill="#f8eba2" shape-rendering="crispEdges"/>
<rect x="201.4" y="611.03" width="11.80" height="9.44" fill="#f9e99f" shape-rendering="crispEdges"/>
<rect x="201.4" y="602.49" width="11.80" height="9.44" fill="#fae89c" shape-rendering="crispEdges"/>
<rect x="201.4" y="593.94" width="11.80" height="9.44" fill="#fbe699" shape-rendering="crispEdges"/>
<rect x="201.4" y="585.40" width="11.80" height="9.44" fill="#fbe596" shape-rendering="crispEdges"/>
<rect x="201.4" y="576.86" width="11.80" height="9.44" fill="#fce392" shape-rendering="crispEdges"/>
<rect x="201.4" y="568.31" width="11.80" height="9.44" fill="#fde28f" shape-rendering="crispEdges"/>
<rect x="201.4" y="559.77" width="11.80" height="9.44" fill="#fee08c" shape-rendering="crispEdges"/>
<rect x="201.4" y="551.22" width="11.80" height="9.44" fill="#fedd89" shape-rendering="crispEdges"/>
<rect x="201.4" y="542.68" width="11.80" height="9.44" fill="#fed985" shape-rendering="crispEdges"/>
<rect x="201.4" y="534.13" width="11.80" height="9.44" fill="#fed582" shape-rendering="crispEdges"/>
<rect x="201.4" y="525.59" width="11.80" height="9.44" fill="#fed27f" shape-rendering="crispEdges"/>
<rect x="201.4" y="517.04" width="11.80" height="9.44" fill="#fece7c" shape-rendering="crispEdges"/>
<rect x="201.4" y="508.50" width="11.80" height="9.44" fill="#feca78" shape-rendering="crispEdges"/>
<rect x="201.4" y="499.95" width="11.80" height="9.44" fill="#fdc675" shape-rendering="crispEdges"/>
<rect x="201.4" y="491.41" width="11.80" height="9.44" fill="#fdc272" shape-rendering="crispEdges"/>
<rect x="201.4" y="482.86" width="11.80" height="9.44" fill="#fdbe6e" shape-rendering="crispEdges"/>
<rect x="201.4" y="474.32" width="11.80" height="9.44" fill="#fdba6b" shape-rendering="crispEdges"/>
<rect x="201.4" y="465.78" width="11.80" height="9.44" fill="#fdb668" shape-rendering="crispEdges"/>
<rect x="201.4" y="457.23" width="11.80" height="9.44" fill="#fdb265" shape-rendering="crispEdges"/>
<rect x="201.4" y="448.69" width="11.80" height="9.44" fill="#fdae61" shape-rendering="crispEdges"/>
<rect x="201.4" y="440.14" width="11.80" height="9.44" fill="#fca95f" shape-rendering="crispEdges"/>
<rect x="201.4" y="431.60" width="11.80" height="9.44" fill="#fca45d" shape-rendering="crispEdges"/>
<rect x="201.4" y="423.05" width="11.80" height="9.44" fill="#fb9f5a" shape-rendering="crispEdges"/>
<rect x="201.4" y="414.51" width="11.80" height="9.44" fill="#fa9a58" shape-rendering="crispEdges"/>
<rect x="201.4" y="405.96" width="11.80" height="9.44" fill="#fa9556" shape-rendering="crispEdges"/>
<rect x="201.4" y="397.42" width="11.80" height="9.44" fill="#f99053" shape-rendering="crispEdges"/>
<rect x="201.4" y="388.87" width="11.80" height="9.44" fill="#f88b51" shape-rendering="crispEdges"/>
<rect x="201.4" y="380.33" width="11.80" height="9.44" fill="#f7864e" shape-rendering="crispEdges"/>
<rect x="201.4" y="371.79" width="11.80" height="9.44" fill="#f7814c" shape-rendering="crispEdges"/>
<rect x="201.4" y="363.24" width="11.80" height="9.44" fill="#f67c4a" shape-rendering="crispEdges"/>
<rect x="201.4" y="354.70" width="11.80" height="9.44" fill="#f57747" shape-rendering="crispEdges"/>
<rect x="201.4" y="346.15" width="11.80" height="9.44" fill="#f57245" shape-rendering="crispEdges"/>
<rect x="201.4" y="337.61" width="11.80" height="9.44" fill="#f46d43" shape-rendering="crispEdges"/>
<rect x="201.4" y="329.06" width="11.80" height="9.44" fill="#f16944" shape-rendering="crispEdges"/>
<rect x="201.4" y="320.52" width="11.80" height="9.44" fill="#ef6545" shape-rendering="crispEdges"/>
<rect x="201.4" y="311.97" width="11.80" height="9.44" fill="#ec6246" shape-rendering="crispEdges"/>
<rect x="201.4" y="303.43" width="11.80" height="9.44" fill="#ea5e47" shape-rendering="crispEdges"/>
<rect x="201.4" y="294.88" width="11.80" height="9.44" fill="#e85a48" shape-rendering="crispEdges"/>
<rect x="201.4" y="286.34" width="11.80" height="9.44" fill="#e55749" shape-rendering="crispEdges"/>
<rect x="201.4" y="277.79" width="11.80" height="9.44" fill="#e3534a" shape-rendering="crispEdges"/>
<rect x="201.4" y="269.25" width="11.80" height="9.44" fill="#e04f4b" shape-rendering="crispEdges"/>
<rect x="201.4" y="260.71" width="11.80" height="9.44" fill="#de4c4c" shape-rendering="crispEdges"/>
<rect x="201.4" y="252.16" width="11.80" height="9.44" fill="#dc484c" shape-rendering="crispEdges"/>
<rect x="201.4" y="243.62" width="11.80" height="9.44" fill="#d9444d" shape-rendering="crispEdges"/>
<rect x="201.4" y="235.07" width="11.80" height="9.44" fill="#d7414e" shape-rendering="crispEdges"/>
<rect x="201.4" y="226.53" width="11.80" height="9.44" fill="#d43d4f" shape-rendering="crispEdges"/>
<rect x="201.4" y="217.98" width="11.80" height="9.44" fill="#cf384e" shape-rendering="crispEdges"/>
<rect x="201.4" y="209.44" width="11.80" height="9.44" fill="#cb334d" shape-rendering="crispEdges"/>
<rect x="201.4" y="200.89" width="11.80" height="9.44" fill="#c72e4c" shape-rendering="crispEdges"/>
<rect x="201.4" y="192.35" width="11.80" height="9.44" fill="#c32a4b" shape-rendering="crispEdges"/>
<rect x="201.4" y="183.80" width="11.80" height="9.44" fill="#be254a" shape-rendering="crispEdges"/>
<rect x="201.4" y="175.26" width="11.80" height="9.44" fill="#ba2049" shape-rendering="crispEdges"/>
<rect x="201.4" y="166.71" width="11.80" height="9.44" fill="#b61b48" shape-rendering="crispEdges"/>
<rect x="201.4" y="158.17" width="11.80" height="9.44" fill="#b11647" shape-rendering="crispEdges"/>
<rect x="201.4" y="149.63" width="11.80" height="9.44" fill="#ad1246" shape-rendering="crispEdges"/>
<rect x="201.4" y="141.08" width="11.80" height="9.44" fill="#a90d45" shape-rendering="crispEdges"/>
<rect x="201.4" y="132.54" width="11.80" height="9.44" fill="#a40844" shape-rendering="crispEdges"/>
<rect x="201.4" y="123.99" width="11.80" height="9.44" fill="#a00343" shape-rendering="crispEdges"/>
<rect x="201.4" y="123.4" width="11.80" height="1094.20" fill="none" stroke="#262626" stroke-width="1.2"/>
<text x="225" y="1081.8999999999999" font-size="28.5" text-anchor="start" font-weight="normal" font-style="normal" fill="#000" >1</text>
<text x="225" y="934.5000000000001" font-size="28.5" text-anchor="start" font-weight="normal" font-style="normal" fill="#000" >2</text>
<text x="225" y="787.1" font-size="28.5" text-anchor="start" font-weight="normal" font-style="normal" fill="#000" >3</text>
<text x="225" y="639.7" font-size="28.5" text-anchor="start" font-weight="normal" font-style="normal" fill="#000" >4</text>
<text x="225" y="492.30000000000007" font-size="28.5" text-anchor="start" font-weight="normal" font-style="normal" fill="#000" >5</text>
<text x="225" y="344.9" font-size="28.5" text-anchor="start" font-weight="normal" font-style="normal" fill="#000" >6</text>
<text x="225" y="197.50000000000009" font-size="28.5" text-anchor="start" font-weight="normal" font-style="normal" fill="#000" >7</text>
<path d="M201.4 1070.30H213.2M201.4 922.90H213.2M201.4 775.50H213.2M201.4 628.10H213.2M201.4 480.70H213.2M201.4 333.30H213.2M201.4 185.90H213.2" stroke="#262626" stroke-width="1.2"/>
<text transform="translate(283.2,670) rotate(-90)" font-size="29" text-anchor="middle">Average intensity (arb. u.)</text>
<defs><radialGradient id="glow" cx="0.5" cy="0.5" r="0.5"><stop offset="0" stop-color="#fdae61"/><stop offset="0.12" stop-color="#ffffbf"/><stop offset="0.35" stop-color="#e6f598"/><stop offset="0.6" stop-color="#66c2a5" stop-opacity="0.85"/><stop offset="0.85" stop-color="#3288bd" stop-opacity="0.5"/><stop offset="1" stop-color="#5e4fa2" stop-opacity="0"/></radialGradient><radialGradient id="spot" cx="0.5" cy="0.5" r="0.5"><stop offset="0" stop-color="#f46d43"/><stop offset="0.35" stop-color="#fee08b"/><stop offset="0.7" stop-color="#abdda4"/><stop offset="1" stop-color="#66c2a5" stop-opacity="0"/></radialGradient><clipPath id="bclip"><rect x="456" y="21.5" width="501.4" height="365.4"/></clipPath><clipPath id="insclip"><rect x="474.5" y="197" width="128" height="131.3"/></clipPath></defs>
<g clip-path="url(#insclip)"><rect x="474.5" y="197.0" width="128.0" height="131.3" fill="#5e4fa2"/>
<path fill="#486cb0" shape-rendering="crispEdges" d="M474 251h2v2h-2zM476 249h2v2h-2zM482 291h2v2h-2zM486 293h2v2h-2zM508 283h2v2h-2zM510 285h2v2h-2zM510 289h2v2h-2zM512 265h2v2h-2zM512 281h2v2h-2zM514 257h2v2h-2zM514 269h2v2h-2zM514 283h2v2h-2zM516 267h2v2h-2zM516 281h2v2h-2zM516 283h2v2h-2zM516 285h2v2h-2zM518 265h2v2h-2zM518 279h2v2h-2zM518 291h2v2h-2zM520 289h2v2h-2zM522 255h2v2h-2zM522 295h2v2h-2zM524 251h2v2h-2zM524 263h2v2h-2zM526 245h2v2h-2zM528 253h2v2h-2zM528 299h2v2h-2zM528 301h2v2h-2zM530 205h2v2h-2zM530 243h2v2h-2zM532 259h2v2h-2zM534 245h2v2h-2zM536 243h2v2h-2zM536 245h2v2h-2zM536 309h2v2h-2zM538 241h2v2h-2zM542 243h2v2h-2zM542 247h2v2h-2zM544 297h2v2h-2zM544 303h2v2h-2zM544 309h2v2h-2zM548 245h2v2h-2zM550 247h2v2h-2zM550 267h2v2h-2zM552 247h2v2h-2zM554 251h2v2h-2zM556 251h2v2h-2zM556 299h2v2h-2zM560 297h2v2h-2zM560 299h2v2h-2zM560 303h2v2h-2zM562 249h2v2h-2zM562 253h2v2h-2zM564 247h2v2h-2zM564 253h2v2h-2zM564 293h2v2h-2zM564 301h2v2h-2zM566 253h2v2h-2zM566 255h2v2h-2zM566 299h2v2h-2zM568 291h2v2h-2zM568 297h2v2h-2zM570 261h2v2h-2zM572 271h2v2h-2zM574 263h2v2h-2zM574 283h2v2h-2zM576 255h2v2h-2zM576 265h2v2h-2z"/>
<path fill="#6bc4a5" shape-rendering="crispEdges" d="M474 253h2v2h-2zM500 227h2v2h-2zM512 275h2v2h-2zM512 289h2v2h-2zM526 305h2v2h-2zM528 279h2v2h-2zM528 283h2v2h-2zM540 257h2v2h-2zM540 291h2v2h-2zM542 257h2v2h-2zM556 309h2v2h-2zM560 275h2v2h-2zM562 271h2v2h-2zM562 273h2v2h-2zM566 275h2v2h-2zM572 249h2v2h-2z"/>
<path fill="#a1d9a4" shape-rendering="crispEdges" d="M474 255h2v2h-2zM502 227h2v2h-2zM530 265h2v2h-2zM536 265h2v2h-2zM544 259h2v2h-2zM550 239h2v2h-2zM552 261h2v2h-2zM552 265h2v2h-2zM554 281h2v2h-2z"/>
<path fill="#4199b6" shape-rendering="crispEdges" d="M474 257h2v2h-2zM486 291h2v2h-2zM508 269h2v2h-2zM508 271h2v2h-2zM518 249h2v2h-2zM518 295h2v2h-2zM520 267h2v2h-2zM522 303h2v2h-2zM524 203h2v2h-2zM524 287h2v2h-2zM526 243h2v2h-2zM526 289h2v2h-2zM528 261h2v2h-2zM528 265h2v2h-2zM528 275h2v2h-2zM530 255h2v2h-2zM530 287h2v2h-2zM532 291h2v2h-2zM532 307h2v2h-2zM534 237h2v2h-2zM536 241h2v2h-2zM538 253h2v2h-2zM540 297h2v2h-2zM544 253h2v2h-2zM546 249h2v2h-2zM546 293h2v2h-2zM548 255h2v2h-2zM560 307h2v2h-2zM564 277h2v2h-2zM566 265h2v2h-2zM566 267h2v2h-2zM566 271h2v2h-2zM566 277h2v2h-2zM576 257h2v2h-2zM580 275h2v2h-2z"/>
<path fill="#a6dba4" shape-rendering="crispEdges" d="M476 251h2v2h-2zM528 205h2v2h-2zM532 283h2v2h-2zM546 283h2v2h-2zM548 289h2v2h-2zM550 261h2v2h-2zM570 297h2v2h-2z"/>
<path fill="#fce392" shape-rendering="crispEdges" d="M476 253h2v2h-2zM526 205h2v2h-2zM532 277h2v2h-2zM536 279h2v2h-2zM536 285h2v2h-2zM546 273h2v2h-2z"/>
<path fill="#e3f499" shape-rendering="crispEdges" d="M476 255h2v2h-2zM532 275h2v2h-2zM548 265h2v2h-2zM552 269h2v2h-2zM556 273h2v2h-2zM596 225h2v2h-2z"/>
<path fill="#3682ba" shape-rendering="crispEdges" d="M476 257h2v2h-2zM484 285h2v2h-2zM484 293h2v2h-2zM514 295h2v2h-2zM518 251h2v2h-2zM522 283h2v2h-2zM524 259h2v2h-2zM524 293h2v2h-2zM526 253h2v2h-2zM528 307h2v2h-2zM534 249h2v2h-2zM534 253h2v2h-2zM538 249h2v2h-2zM538 301h2v2h-2zM540 301h2v2h-2zM550 297h2v2h-2zM552 251h2v2h-2zM552 295h2v2h-2zM554 253h2v2h-2zM554 255h2v2h-2zM554 295h2v2h-2zM556 253h2v2h-2zM558 255h2v2h-2zM562 255h2v2h-2zM566 245h2v2h-2zM566 263h2v2h-2zM566 285h2v2h-2zM572 255h2v2h-2zM572 297h2v2h-2zM578 277h2v2h-2zM584 321h2v2h-2z"/>
<path fill="#4470b2" shape-rendering="crispEdges" d="M478 251h2v2h-2zM478 253h2v2h-2zM510 269h2v2h-2zM510 281h2v2h-2zM512 257h2v2h-2zM512 293h2v2h-2zM514 279h2v2h-2zM516 255h2v2h-2zM516 269h2v2h-2zM516 273h2v2h-2zM516 277h2v2h-2zM516 279h2v2h-2zM516 287h2v2h-2zM516 293h2v2h-2zM518 259h2v2h-2zM518 261h2v2h-2zM518 267h2v2h-2zM518 273h2v2h-2zM520 269h2v2h-2zM520 281h2v2h-2zM520 291h2v2h-2zM522 281h2v2h-2zM524 295h2v2h-2zM526 293h2v2h-2zM526 295h2v2h-2zM528 241h2v2h-2zM528 295h2v2h-2zM530 247h2v2h-2zM530 251h2v2h-2zM530 291h2v2h-2zM530 299h2v2h-2zM532 251h2v2h-2zM534 247h2v2h-2zM534 301h2v2h-2zM536 307h2v2h-2zM538 255h2v2h-2zM538 299h2v2h-2zM540 245h2v2h-2zM544 241h2v2h-2zM544 249h2v2h-2zM544 299h2v2h-2zM546 301h2v2h-2zM546 303h2v2h-2zM550 301h2v2h-2zM552 301h2v2h-2zM554 301h2v2h-2zM558 243h2v2h-2zM558 251h2v2h-2zM558 299h2v2h-2zM558 305h2v2h-2zM560 261h2v2h-2zM562 289h2v2h-2zM562 291h2v2h-2zM564 287h2v2h-2zM564 291h2v2h-2zM568 259h2v2h-2zM568 261h2v2h-2zM568 265h2v2h-2zM568 267h2v2h-2zM568 281h2v2h-2zM568 285h2v2h-2zM570 263h2v2h-2zM570 267h2v2h-2zM570 275h2v2h-2zM570 277h2v2h-2zM570 285h2v2h-2zM572 261h2v2h-2zM572 277h2v2h-2zM572 279h2v2h-2zM572 281h2v2h-2zM574 277h2v2h-2zM576 281h2v2h-2zM576 289h2v2h-2zM578 275h2v2h-2zM578 289h2v2h-2zM590 315h2v2h-2zM598 227h2v2h-2z"/>
<path fill="#4175b4" shape-rendering="crispEdges" d="M482 285h2v2h-2zM496 325h2v2h-2zM516 265h2v2h-2zM516 271h2v2h-2zM516 275h2v2h-2zM518 269h2v2h-2zM518 277h2v2h-2zM520 273h2v2h-2zM520 279h2v2h-2zM522 247h2v2h-2zM522 289h2v2h-2zM524 267h2v2h-2zM524 291h2v2h-2zM526 251h2v2h-2zM526 257h2v2h-2zM532 255h2v2h-2zM532 297h2v2h-2zM532 299h2v2h-2zM534 307h2v2h-2zM536 249h2v2h-2zM538 295h2v2h-2zM540 247h2v2h-2zM540 249h2v2h-2zM542 311h2v2h-2zM544 301h2v2h-2zM548 303h2v2h-2zM550 249h2v2h-2zM550 311h2v2h-2zM556 297h2v2h-2zM558 253h2v2h-2zM558 289h2v2h-2zM560 217h2v2h-2zM560 255h2v2h-2zM562 213h2v2h-2zM564 251h2v2h-2zM564 267h2v2h-2zM566 261h2v2h-2zM566 281h2v2h-2zM566 291h2v2h-2zM566 305h2v2h-2zM568 283h2v2h-2zM570 281h2v2h-2zM572 273h2v2h-2zM572 275h2v2h-2zM578 265h2v2h-2zM578 273h2v2h-2zM580 273h2v2h-2z"/>
<path fill="#59b4ab" shape-rendering="crispEdges" d="M482 287h2v2h-2zM524 269h2v2h-2zM524 283h2v2h-2zM528 263h2v2h-2zM528 273h2v2h-2zM530 289h2v2h-2zM534 257h2v2h-2zM536 259h2v2h-2zM546 253h2v2h-2zM554 259h2v2h-2zM554 285h2v2h-2zM560 287h2v2h-2zM562 275h2v2h-2zM562 285h2v2h-2zM578 267h2v2h-2zM578 279h2v2h-2z"/>
<path fill="#4da6b0" shape-rendering="crispEdges" d="M482 289h2v2h-2zM530 257h2v2h-2zM532 257h2v2h-2zM532 261h2v2h-2zM532 293h2v2h-2zM538 257h2v2h-2zM542 309h2v2h-2zM544 291h2v2h-2zM548 237h2v2h-2zM560 265h2v2h-2zM560 279h2v2h-2zM560 285h2v2h-2zM562 261h2v2h-2zM562 265h2v2h-2zM562 269h2v2h-2zM564 269h2v2h-2zM572 253h2v2h-2zM574 293h2v2h-2z"/>
<path fill="#ecf4a4" shape-rendering="crispEdges" d="M484 287h2v2h-2zM514 287h2v2h-2zM552 263h2v2h-2zM568 247h2v2h-2z"/>
<path fill="#fb9f5a" shape-rendering="crispEdges" d="M484 289h2v2h-2zM500 229h2v2h-2z"/>
<path fill="#e9f59d" shape-rendering="crispEdges" d="M484 291h2v2h-2zM510 277h2v2h-2zM542 259h2v2h-2z"/>
<path fill="#3990ba" shape-rendering="crispEdges" d="M486 289h2v2h-2zM508 279h2v2h-2zM510 287h2v2h-2zM514 255h2v2h-2zM514 285h2v2h-2zM522 265h2v2h-2zM522 267h2v2h-2zM522 275h2v2h-2zM524 245h2v2h-2zM524 289h2v2h-2zM526 261h2v2h-2zM528 287h2v2h-2zM530 253h2v2h-2zM544 293h2v2h-2zM546 297h2v2h-2zM552 297h2v2h-2zM556 259h2v2h-2zM556 293h2v2h-2zM558 257h2v2h-2zM558 307h2v2h-2zM560 259h2v2h-2zM560 283h2v2h-2zM562 245h2v2h-2zM562 293h2v2h-2zM564 263h2v2h-2zM564 283h2v2h-2zM568 275h2v2h-2zM570 251h2v2h-2zM578 269h2v2h-2z"/>
<path fill="#3d79b6" shape-rendering="crispEdges" d="M490 319h2v2h-2zM494 321h2v2h-2zM508 275h2v2h-2zM512 263h2v2h-2zM514 277h2v2h-2zM518 271h2v2h-2zM520 249h2v2h-2zM520 259h2v2h-2zM520 271h2v2h-2zM520 283h2v2h-2zM520 287h2v2h-2zM522 253h2v2h-2zM522 257h2v2h-2zM522 285h2v2h-2zM522 291h2v2h-2zM522 293h2v2h-2zM528 255h2v2h-2zM530 249h2v2h-2zM532 253h2v2h-2zM536 251h2v2h-2zM540 303h2v2h-2zM544 245h2v2h-2zM548 299h2v2h-2zM552 241h2v2h-2zM552 249h2v2h-2zM552 255h2v2h-2zM552 311h2v2h-2zM554 249h2v2h-2zM556 215h2v2h-2zM556 295h2v2h-2zM558 297h2v2h-2zM560 241h2v2h-2zM564 261h2v2h-2zM564 281h2v2h-2zM564 289h2v2h-2zM566 259h2v2h-2zM566 283h2v2h-2zM566 287h2v2h-2zM566 289h2v2h-2zM568 269h2v2h-2zM568 289h2v2h-2zM570 271h2v2h-2zM570 283h2v2h-2zM572 269h2v2h-2zM578 261h2v2h-2zM578 263h2v2h-2zM596 223h2v2h-2z"/>
<path fill="#8bd1a4" shape-rendering="crispEdges" d="M490 321h2v2h-2zM526 275h2v2h-2zM532 263h2v2h-2zM536 261h2v2h-2zM540 289h2v2h-2zM548 257h2v2h-2zM550 289h2v2h-2zM550 293h2v2h-2zM552 289h2v2h-2zM556 285h2v2h-2zM558 213h2v2h-2zM558 265h2v2h-2zM568 249h2v2h-2z"/>
<path fill="#3387bc" shape-rendering="crispEdges" d="M490 323h2v2h-2zM512 273h2v2h-2zM516 299h2v2h-2zM520 285h2v2h-2zM522 205h2v2h-2zM522 245h2v2h-2zM522 287h2v2h-2zM522 299h2v2h-2zM524 261h2v2h-2zM526 259h2v2h-2zM526 263h2v2h-2zM530 241h2v2h-2zM538 303h2v2h-2zM540 251h2v2h-2zM546 299h2v2h-2zM546 309h2v2h-2zM548 251h2v2h-2zM550 253h2v2h-2zM554 297h2v2h-2zM556 213h2v2h-2zM558 259h2v2h-2zM558 291h2v2h-2zM562 257h2v2h-2zM562 287h2v2h-2zM566 273h2v2h-2zM566 279h2v2h-2zM570 299h2v2h-2zM580 271h2v2h-2zM588 321h2v2h-2zM594 227h2v2h-2z"/>
<path fill="#ebf4a1" shape-rendering="crispEdges" d="M492 321h2v2h-2zM536 277h2v2h-2zM548 261h2v2h-2zM594 223h2v2h-2z"/>
<path fill="#fed27f" shape-rendering="crispEdges" d="M492 323h2v2h-2zM542 265h2v2h-2z"/>
<path fill="#358bbc" shape-rendering="crispEdges" d="M492 325h2v2h-2zM510 267h2v2h-2zM514 253h2v2h-2zM516 291h2v2h-2zM518 301h2v2h-2zM522 263h2v2h-2zM524 285h2v2h-2zM530 203h2v2h-2zM532 295h2v2h-2zM534 291h2v2h-2zM534 293h2v2h-2zM534 295h2v2h-2zM536 255h2v2h-2zM536 297h2v2h-2zM544 251h2v2h-2zM552 283h2v2h-2zM552 291h2v2h-2zM556 255h2v2h-2zM560 253h2v2h-2zM560 273h2v2h-2zM560 295h2v2h-2zM564 275h2v2h-2zM566 269h2v2h-2zM568 245h2v2h-2zM568 273h2v2h-2zM572 259h2v2h-2zM592 225h2v2h-2z"/>
<path fill="#e7f59b" shape-rendering="crispEdges" d="M494 323h2v2h-2zM510 275h2v2h-2zM524 205h2v2h-2zM544 285h2v2h-2zM550 263h2v2h-2zM558 277h2v2h-2zM588 317h2v2h-2z"/>
<path fill="#96d5a4" shape-rendering="crispEdges" d="M494 325h2v2h-2zM528 267h2v2h-2zM530 283h2v2h-2zM538 289h2v2h-2zM556 265h2v2h-2z"/>
<path fill="#4b67ae" shape-rendering="crispEdges" d="M496 231h2v2h-2zM498 233h2v2h-2zM504 227h2v2h-2zM512 255h2v2h-2zM512 283h2v2h-2zM514 273h2v2h-2zM514 281h2v2h-2zM516 263h2v2h-2zM518 247h2v2h-2zM518 257h2v2h-2zM518 275h2v2h-2zM518 287h2v2h-2zM520 257h2v2h-2zM520 263h2v2h-2zM520 293h2v2h-2zM524 207h2v2h-2zM524 253h2v2h-2zM524 305h2v2h-2zM526 255h2v2h-2zM526 297h2v2h-2zM526 299h2v2h-2zM528 251h2v2h-2zM530 297h2v2h-2zM530 303h2v2h-2zM530 305h2v2h-2zM532 249h2v2h-2zM532 301h2v2h-2zM532 305h2v2h-2zM536 247h2v2h-2zM538 245h2v2h-2zM538 247h2v2h-2zM540 241h2v2h-2zM540 243h2v2h-2zM542 245h2v2h-2zM542 301h2v2h-2zM542 303h2v2h-2zM544 305h2v2h-2zM546 241h2v2h-2zM546 243h2v2h-2zM546 247h2v2h-2zM548 241h2v2h-2zM548 301h2v2h-2zM548 307h2v2h-2zM550 237h2v2h-2zM550 245h2v2h-2zM550 251h2v2h-2zM552 245h2v2h-2zM554 241h2v2h-2zM554 299h2v2h-2zM556 241h2v2h-2zM558 249h2v2h-2zM560 247h2v2h-2zM560 249h2v2h-2zM564 257h2v2h-2zM564 295h2v2h-2zM564 297h2v2h-2zM566 251h2v2h-2zM566 293h2v2h-2zM570 253h2v2h-2zM570 255h2v2h-2zM570 257h2v2h-2zM570 279h2v2h-2zM570 287h2v2h-2zM570 289h2v2h-2zM572 247h2v2h-2zM572 265h2v2h-2zM574 253h2v2h-2zM574 281h2v2h-2zM574 287h2v2h-2zM584 319h2v2h-2z"/>
<path fill="#7bcaa5" shape-rendering="crispEdges" d="M498 229h2v2h-2zM520 297h2v2h-2zM532 265h2v2h-2zM538 263h2v2h-2zM540 263h2v2h-2zM546 285h2v2h-2zM556 263h2v2h-2zM558 269h2v2h-2zM558 283h2v2h-2zM560 213h2v2h-2zM560 263h2v2h-2zM560 267h2v2h-2zM566 247h2v2h-2z"/>
<path fill="#b0dfa3" shape-rendering="crispEdges" d="M498 231h2v2h-2zM534 285h2v2h-2zM534 287h2v2h-2zM538 239h2v2h-2zM542 287h2v2h-2zM560 277h2v2h-2zM560 305h2v2h-2z"/>
<path fill="#91d3a4" shape-rendering="crispEdges" d="M500 231h2v2h-2zM502 229h2v2h-2zM528 271h2v2h-2zM544 287h2v2h-2zM556 287h2v2h-2zM574 255h2v2h-2zM574 261h2v2h-2zM580 281h2v2h-2z"/>
<path fill="#459db4" shape-rendering="crispEdges" d="M508 261h2v2h-2zM522 301h2v2h-2zM524 279h2v2h-2zM524 281h2v2h-2zM526 273h2v2h-2zM528 293h2v2h-2zM530 293h2v2h-2zM530 307h2v2h-2zM538 291h2v2h-2zM540 253h2v2h-2zM540 295h2v2h-2zM542 295h2v2h-2zM550 295h2v2h-2zM554 257h2v2h-2zM554 291h2v2h-2zM556 257h2v2h-2zM556 289h2v2h-2zM560 289h2v2h-2zM562 267h2v2h-2zM580 277h2v2h-2zM580 285h2v2h-2z"/>
<path fill="#f4f2b2" shape-rendering="crispEdges" d="M508 263h2v2h-2zM514 289h2v2h-2zM544 265h2v2h-2zM554 271h2v2h-2z"/>
<path fill="#fdc272" shape-rendering="crispEdges" d="M508 265h2v2h-2z"/>
<path fill="#b5e1a2" shape-rendering="crispEdges" d="M508 267h2v2h-2zM534 241h2v2h-2zM546 259h2v2h-2zM560 271h2v2h-2zM576 259h2v2h-2zM580 283h2v2h-2z"/>
<path fill="#76c8a5" shape-rendering="crispEdges" d="M508 273h2v2h-2zM510 279h2v2h-2zM526 279h2v2h-2zM530 261h2v2h-2zM536 291h2v2h-2zM538 309h2v2h-2zM546 287h2v2h-2zM552 287h2v2h-2zM554 283h2v2h-2zM554 289h2v2h-2zM556 279h2v2h-2zM558 285h2v2h-2zM576 287h2v2h-2zM590 317h2v2h-2z"/>
<path fill="#5db8a9" shape-rendering="crispEdges" d="M508 277h2v2h-2zM512 291h2v2h-2zM516 253h2v2h-2zM524 277h2v2h-2zM526 271h2v2h-2zM526 285h2v2h-2zM528 257h2v2h-2zM532 285h2v2h-2zM536 257h2v2h-2zM538 259h2v2h-2zM540 293h2v2h-2zM542 237h2v2h-2zM542 293h2v2h-2zM546 255h2v2h-2zM548 291h2v2h-2zM556 283h2v2h-2zM560 281h2v2h-2zM562 281h2v2h-2z"/>
<path fill="#3a7eb8" shape-rendering="crispEdges" d="M508 281h2v2h-2zM516 251h2v2h-2zM518 281h2v2h-2zM520 261h2v2h-2zM520 265h2v2h-2zM520 275h2v2h-2zM522 259h2v2h-2zM522 261h2v2h-2zM522 277h2v2h-2zM522 279h2v2h-2zM524 273h2v2h-2zM526 303h2v2h-2zM530 239h2v2h-2zM530 295h2v2h-2zM534 251h2v2h-2zM534 297h2v2h-2zM534 299h2v2h-2zM536 253h2v2h-2zM536 299h2v2h-2zM540 237h2v2h-2zM540 239h2v2h-2zM540 299h2v2h-2zM542 249h2v2h-2zM542 251h2v2h-2zM542 299h2v2h-2zM558 293h2v2h-2zM558 295h2v2h-2zM560 257h2v2h-2zM560 291h2v2h-2zM562 217h2v2h-2zM562 279h2v2h-2zM562 295h2v2h-2zM562 307h2v2h-2zM564 215h2v2h-2zM564 259h2v2h-2zM568 271h2v2h-2zM568 277h2v2h-2zM568 279h2v2h-2zM570 269h2v2h-2zM570 273h2v2h-2zM572 293h2v2h-2zM576 291h2v2h-2zM578 271h2v2h-2zM586 317h2v2h-2zM590 319h2v2h-2zM592 221h2v2h-2z"/>
<path fill="#51abaf" shape-rendering="crispEdges" d="M510 259h2v2h-2zM512 261h2v2h-2zM524 265h2v2h-2zM528 285h2v2h-2zM542 297h2v2h-2zM554 239h2v2h-2zM554 293h2v2h-2zM558 287h2v2h-2zM562 243h2v2h-2zM564 279h2v2h-2zM574 291h2v2h-2z"/>
<path fill="#f8eba2" shape-rendering="crispEdges" d="M510 261h2v2h-2zM550 265h2v2h-2zM550 279h2v2h-2zM550 309h2v2h-2z"/>
<path fill="#a90d45" shape-rendering="crispEdges" d="M510 263h2v2h-2zM534 239h2v2h-2zM538 273h2v2h-2zM540 267h2v2h-2zM540 271h2v2h-2zM540 273h2v2h-2zM540 277h2v2h-2zM542 271h2v2h-2zM542 275h2v2h-2zM542 277h2v2h-2zM542 279h2v2h-2zM544 273h2v2h-2zM544 275h2v2h-2zM546 275h2v2h-2zM548 271h2v2h-2zM548 275h2v2h-2zM578 283h2v2h-2z"/>
<path fill="#f5f1af" shape-rendering="crispEdges" d="M510 265h2v2h-2zM542 285h2v2h-2zM558 275h2v2h-2z"/>
<path fill="#66c2a5" shape-rendering="crispEdges" d="M510 273h2v2h-2zM514 291h2v2h-2zM514 293h2v2h-2zM524 271h2v2h-2zM526 283h2v2h-2zM528 277h2v2h-2zM534 265h2v2h-2zM536 237h2v2h-2zM536 293h2v2h-2zM542 253h2v2h-2zM544 255h2v2h-2zM548 253h2v2h-2zM548 287h2v2h-2zM552 257h2v2h-2zM558 263h2v2h-2zM562 303h2v2h-2zM568 301h2v2h-2z"/>
<path fill="#4f63ab" shape-rendering="crispEdges" d="M512 259h2v2h-2zM512 267h2v2h-2zM514 265h2v2h-2zM526 291h2v2h-2zM530 301h2v2h-2zM546 305h2v2h-2zM550 303h2v2h-2zM554 305h2v2h-2zM556 249h2v2h-2zM570 259h2v2h-2zM570 293h2v2h-2zM576 267h2v2h-2z"/>
<path fill="#80cca5" shape-rendering="crispEdges" d="M512 277h2v2h-2zM526 281h2v2h-2zM528 269h2v2h-2zM532 289h2v2h-2zM538 287h2v2h-2zM538 293h2v2h-2zM550 291h2v2h-2zM554 265h2v2h-2zM556 269h2v2h-2zM596 227h2v2h-2z"/>
<path fill="#3d94b8" shape-rendering="crispEdges" d="M512 279h2v2h-2zM520 277h2v2h-2zM522 273h2v2h-2zM524 275h2v2h-2zM526 265h2v2h-2zM528 259h2v2h-2zM528 289h2v2h-2zM528 305h2v2h-2zM538 237h2v2h-2zM538 251h2v2h-2zM538 297h2v2h-2zM540 255h2v2h-2zM542 255h2v2h-2zM546 251h2v2h-2zM546 295h2v2h-2zM548 285h2v2h-2zM550 299h2v2h-2zM550 307h2v2h-2zM556 271h2v2h-2zM560 293h2v2h-2zM564 245h2v2h-2zM564 271h2v2h-2zM564 285h2v2h-2zM576 263h2v2h-2zM580 279h2v2h-2z"/>
<path fill="#55afad" shape-rendering="crispEdges" d="M512 285h2v2h-2zM532 287h2v2h-2zM534 255h2v2h-2zM542 291h2v2h-2zM548 293h2v2h-2zM550 257h2v2h-2z"/>
<path fill="#b9e3a1" shape-rendering="crispEdges" d="M512 287h2v2h-2zM528 203h2v2h-2zM532 267h2v2h-2zM548 309h2v2h-2zM552 281h2v2h-2z"/>
<path fill="#49a2b2" shape-rendering="crispEdges" d="M516 289h2v2h-2zM522 269h2v2h-2zM522 271h2v2h-2zM524 303h2v2h-2zM526 287h2v2h-2zM528 291h2v2h-2zM536 295h2v2h-2zM548 297h2v2h-2zM552 253h2v2h-2zM552 293h2v2h-2zM556 291h2v2h-2zM558 241h2v2h-2zM562 259h2v2h-2zM562 263h2v2h-2zM572 257h2v2h-2zM576 283h2v2h-2z"/>
<path fill="#86cea5" shape-rendering="crispEdges" d="M516 295h2v2h-2zM526 269h2v2h-2zM530 263h2v2h-2zM530 267h2v2h-2zM530 285h2v2h-2zM536 263h2v2h-2zM558 261h2v2h-2zM558 267h2v2h-2zM558 281h2v2h-2zM566 301h2v2h-2z"/>
<path fill="#eef4a8" shape-rendering="crispEdges" d="M516 297h2v2h-2zM534 275h2v2h-2zM536 271h2v2h-2zM538 285h2v2h-2z"/>
<path fill="#cf384e" shape-rendering="crispEdges" d="M518 297h2v2h-2z"/>
<path fill="#fa9556" shape-rendering="crispEdges" d="M518 299h2v2h-2zM538 271h2v2h-2zM546 269h2v2h-2zM550 271h2v2h-2zM550 283h2v2h-2z"/>
<path fill="#f99053" shape-rendering="crispEdges" d="M520 299h2v2h-2zM534 273h2v2h-2zM550 273h2v2h-2z"/>
<path fill="#e6f599" shape-rendering="crispEdges" d="M520 301h2v2h-2zM554 269h2v2h-2zM554 279h2v2h-2zM558 273h2v2h-2zM562 215h2v2h-2z"/>
<path fill="#c3e79f" shape-rendering="crispEdges" d="M526 203h2v2h-2zM530 281h2v2h-2zM532 241h2v2h-2zM570 247h2v2h-2z"/>
<path fill="#70c6a5" shape-rendering="crispEdges" d="M526 267h2v2h-2zM534 259h2v2h-2zM534 261h2v2h-2zM544 295h2v2h-2zM546 257h2v2h-2zM546 291h2v2h-2zM550 255h2v2h-2zM552 259h2v2h-2zM554 261h2v2h-2zM554 287h2v2h-2zM556 261h2v2h-2zM562 277h2v2h-2zM572 251h2v2h-2zM576 285h2v2h-2z"/>
<path fill="#62bda7" shape-rendering="crispEdges" d="M526 277h2v2h-2zM530 259h2v2h-2zM540 259h2v2h-2zM542 239h2v2h-2zM548 295h2v2h-2zM550 259h2v2h-2zM552 285h2v2h-2zM562 283h2v2h-2zM572 295h2v2h-2z"/>
<path fill="#abdda4" shape-rendering="crispEdges" d="M528 281h2v2h-2zM530 273h2v2h-2zM534 263h2v2h-2zM536 287h2v2h-2zM542 289h2v2h-2zM544 257h2v2h-2zM554 267h2v2h-2zM556 267h2v2h-2zM560 269h2v2h-2z"/>
<path fill="#bee5a0" shape-rendering="crispEdges" d="M530 269h2v2h-2zM552 277h2v2h-2z"/>
<path fill="#9bd7a4" shape-rendering="crispEdges" d="M530 271h2v2h-2zM530 277h2v2h-2zM534 269h2v2h-2zM534 289h2v2h-2zM538 261h2v2h-2zM546 289h2v2h-2zM552 267h2v2h-2zM564 273h2v2h-2zM578 287h2v2h-2zM586 321h2v2h-2zM592 223h2v2h-2z"/>
<path fill="#d5ee9b" shape-rendering="crispEdges" d="M530 275h2v2h-2zM556 277h2v2h-2zM558 271h2v2h-2z"/>
<path fill="#d0ec9c" shape-rendering="crispEdges" d="M530 279h2v2h-2zM532 281h2v2h-2zM536 289h2v2h-2zM542 261h2v2h-2zM554 263h2v2h-2zM556 307h2v2h-2z"/>
<path fill="#f3f3b3" shape-rendering="crispEdges" d="M532 239h2v2h-2zM532 269h2v2h-2zM536 283h2v2h-2zM542 269h2v2h-2zM548 239h2v2h-2zM548 283h2v2h-2zM576 261h2v2h-2z"/>
<path fill="#fbe699" shape-rendering="crispEdges" d="M532 271h2v2h-2zM534 281h2v2h-2zM544 267h2v2h-2zM546 265h2v2h-2zM574 259h2v2h-2z"/>
<path fill="#fed582" shape-rendering="crispEdges" d="M532 273h2v2h-2zM570 249h2v2h-2zM594 225h2v2h-2z"/>
<path fill="#ccea9d" shape-rendering="crispEdges" d="M532 279h2v2h-2zM544 237h2v2h-2zM556 281h2v2h-2zM564 305h2v2h-2zM566 303h2v2h-2zM574 257h2v2h-2z"/>
<path fill="#edf4a6" shape-rendering="crispEdges" d="M534 267h2v2h-2zM540 285h2v2h-2zM540 287h2v2h-2z"/>
<path fill="#fdba6b" shape-rendering="crispEdges" d="M534 271h2v2h-2zM544 263h2v2h-2zM560 215h2v2h-2z"/>
<path fill="#fa9a58" shape-rendering="crispEdges" d="M534 277h2v2h-2zM550 269h2v2h-2zM550 275h2v2h-2z"/>
<path fill="#f6efac" shape-rendering="crispEdges" d="M534 279h2v2h-2zM536 269h2v2h-2zM548 267h2v2h-2z"/>
<path fill="#def29a" shape-rendering="crispEdges" d="M534 283h2v2h-2zM544 283h2v2h-2zM544 289h2v2h-2zM558 215h2v2h-2z"/>
<path fill="#f46d43" shape-rendering="crispEdges" d="M536 239h2v2h-2z"/>
<path fill="#f9e99f" shape-rendering="crispEdges" d="M536 267h2v2h-2zM540 265h2v2h-2zM546 239h2v2h-2z"/>
<path fill="#fde28f" shape-rendering="crispEdges" d="M536 273h2v2h-2zM550 281h2v2h-2zM552 275h2v2h-2z"/>
<path fill="#f57245" shape-rendering="crispEdges" d="M536 275h2v2h-2zM540 269h2v2h-2z"/>
<path fill="#f2f3b1" shape-rendering="crispEdges" d="M536 281h2v2h-2zM548 263h2v2h-2z"/>
<path fill="#fae89c" shape-rendering="crispEdges" d="M538 265h2v2h-2zM544 269h2v2h-2zM554 273h2v2h-2z"/>
<path fill="#eff4aa" shape-rendering="crispEdges" d="M538 267h2v2h-2zM578 281h2v2h-2z"/>
<path fill="#daf09b" shape-rendering="crispEdges" d="M538 269h2v2h-2zM548 259h2v2h-2z"/>
<path fill="#f67c4a" shape-rendering="crispEdges" d="M538 275h2v2h-2zM542 273h2v2h-2z"/>
<path fill="#f7864e" shape-rendering="crispEdges" d="M538 277h2v2h-2z"/>
<path fill="#b61b48" shape-rendering="crispEdges" d="M538 279h2v2h-2z"/>
<path fill="#fed985" shape-rendering="crispEdges" d="M538 281h2v2h-2zM542 263h2v2h-2zM544 239h2v2h-2zM554 275h2v2h-2z"/>
<path fill="#fdae61" shape-rendering="crispEdges" d="M538 283h2v2h-2zM540 283h2v2h-2zM548 281h2v2h-2z"/>
<path fill="#f1f3af" shape-rendering="crispEdges" d="M540 261h2v2h-2zM558 279h2v2h-2zM562 305h2v2h-2zM564 303h2v2h-2zM586 319h2v2h-2z"/>
<path fill="#fdc675" shape-rendering="crispEdges" d="M540 275h2v2h-2zM548 279h2v2h-2z"/>
<path fill="#f57747" shape-rendering="crispEdges" d="M540 279h2v2h-2z"/>
<path fill="#d9444d" shape-rendering="crispEdges" d="M540 281h2v2h-2zM546 271h2v2h-2zM548 269h2v2h-2z"/>
<path fill="#ec6246" shape-rendering="crispEdges" d="M542 267h2v2h-2zM544 281h2v2h-2z"/>
<path fill="#fece7c" shape-rendering="crispEdges" d="M542 281h2v2h-2zM542 283h2v2h-2zM544 271h2v2h-2zM546 267h2v2h-2zM554 277h2v2h-2z"/>
<path fill="#eaf49f" shape-rendering="crispEdges" d="M544 261h2v2h-2zM552 307h2v2h-2z"/>
<path fill="#f16944" shape-rendering="crispEdges" d="M544 277h2v2h-2z"/>
<path fill="#de4c4c" shape-rendering="crispEdges" d="M544 279h2v2h-2z"/>
<path fill="#c7e89e" shape-rendering="crispEdges" d="M546 237h2v2h-2zM546 261h2v2h-2zM550 287h2v2h-2z"/>
<path fill="#fdb265" shape-rendering="crispEdges" d="M546 263h2v2h-2zM552 273h2v2h-2z"/>
<path fill="#ea5e47" shape-rendering="crispEdges" d="M546 277h2v2h-2zM546 279h2v2h-2zM550 277h2v2h-2z"/>
<path fill="#f88b51" shape-rendering="crispEdges" d="M546 281h2v2h-2zM552 271h2v2h-2z"/>
<path fill="#e04f4b" shape-rendering="crispEdges" d="M548 273h2v2h-2z"/>
<path fill="#be254a" shape-rendering="crispEdges" d="M548 277h2v2h-2z"/>
<path fill="#feca78" shape-rendering="crispEdges" d="M550 285h2v2h-2z"/>
<path fill="#ef6545" shape-rendering="crispEdges" d="M552 279h2v2h-2z"/>
<path fill="#ba2049" shape-rendering="crispEdges" d="M552 309h2v2h-2z"/>
<path fill="#fca95f" shape-rendering="crispEdges" d="M554 307h2v2h-2z"/>
<path fill="#fca45d" shape-rendering="crispEdges" d="M554 309h2v2h-2z"/>
<path fill="#f0f4ac" shape-rendering="crispEdges" d="M556 275h2v2h-2z"/>
<path fill="#b11647" shape-rendering="crispEdges" d="M578 285h2v2h-2z"/>
<path fill="#fedd89" shape-rendering="crispEdges" d="M588 319h2v2h-2z"/>
<rect x="520.4" y="197.0" width="3.4" height="131.3" fill="#fff"/>
<rect x="568.8" y="197.0" width="3.4" height="131.3" fill="#fff"/>
<rect x="474.5" y="243.3" width="128.0" height="1.6" fill="#e8e4f4"/>
<rect x="543.8000000000001" y="275.0" width="1.8" height="60" fill="#fff"/>
<circle cx="544.7" cy="275.0" r="5.6" fill="#f46d43" opacity="0.8"/>
<circle cx="544.7" cy="275.0" r="4.2" fill="#fff"/>
</g>
<rect x="474.5" y="197.0" width="128.0" height="131.3" fill="none" stroke="#444" stroke-width="1"/>
<path d="M737.9 21.5V366.5M823.7 21.5V366.5M846.3 21.5V366.5M889.2 21.5V366.5M909.3 21.5V366.5M938.0 21.5V366.5" stroke="#555" stroke-width="1.1" fill="none"/>
<polyline clip-path="url(#bclip)" fill="none" stroke="#0072bd" stroke-width="3.3" stroke-linejoin="round" points="456.3,102.5 461.5,104.7 468.9,107.2 474.6,111.2 480.3,115.3 489.3,120.2 498.3,126 507.3,130 514.6,132.2 522,138.2 530.2,143.1 538.3,146.9 544.9,151.3 551.4,154.6 558,160 563.7,163.5 569.4,165.5 575.1,169.3 580,174.2 589,177.9 595.5,182.3 600,183.9 606.5,187.2 613.1,192.9 617.2,194.5 621.2,197.5 625.3,197.5 629.4,201.9 636,204.3 640,207.3 644.1,207.9 647.4,212.8 653.9,214.5 660.5,219.4 664.6,218.2 668.6,221.5 674.4,227.5 678.4,226.4 683.3,230.5 689.9,234.6 698.1,237.8 703.8,241.4 708.7,241.6 712.8,243.5 720.1,244.4 724.2,241.9 727.5,238.6 729.9,232.9 731.6,219 733.2,202.7 734.3,178.2 735.3,150 736.2,117 737,94 738.8,94 739.8,115 740.7,140 741.5,175 742.2,202.7 744.6,227.2 745.7,240 747.4,248.2 749.8,253.1 752.3,258 754.7,264.5 758,267 761.2,271.9 764.5,273.5 771,280.9 777.6,284.9 784.1,289.8 790.7,293.1 795.6,297.2 801.3,298.8 802.9,302.9 806.2,301.3 810.3,303.7 814.4,303.7 817.6,298.8 819.3,289 820.1,272.7 820.9,240 821.7,205 823,199 824.2,197.5 825,215 825.5,240 826.6,272.7 829.1,295.6 831.5,303.7 834.8,310.3 838.1,309.5 840.5,302.1 842.1,289 843.3,264.5 844.3,240 844.8,205 846.3,204.5 847.3,212 848.2,240 849.2,272.7 851.1,305.4 854.4,320.1 857.7,325.8 862.6,330.7 869.1,334 875.6,336.4 878.9,338.9 880,337.5 882.9,338.8 884.5,333.4 885.8,328.4 886.6,307.8 887,274.8 888.3,268.2 889.9,266.9 891.1,269 892,291.3 892.8,316.1 894,330.9 896.1,337.5 897.8,341.7 899.8,345.8 901.9,344.1 904.4,340.8 905.6,328.4 906.8,299.5 907.7,278.1 908.5,277.2 909.7,283 911,287.2 911.8,311.9 912.6,332.6 914.7,345 917.2,350.7 919.6,354 922.9,354 925.4,356.5 927.9,357.3 931.2,359 932.8,354 935.3,350.7 936.2,320.2 937.8,314.4 939.3,311.1 940.3,324.3 941.5,349.1 942.8,353.2 944.8,360.7 947.7,363.1 949.8,357.3 952.3,360.7 953.1,349.1 953.9,307.8 955.1,292.9 956.4,296.2 957.6,352.4"/>
<rect x="456.0" y="21.5" width="501.4" height="365.4" fill="none" stroke="#262626" stroke-width="2.6"/>
<path d="M456.0 366.80h6M957.4 366.80h-6M456.0 345.97h3.8M957.4 345.97h-3.8M456.0 333.78h3.8M957.4 333.78h-3.8M456.0 325.14h3.8M957.4 325.14h-3.8M456.0 318.43h3.8M957.4 318.43h-3.8M456.0 312.95h3.8M957.4 312.95h-3.8M456.0 308.32h3.8M957.4 308.32h-3.8M456.0 304.31h3.8M957.4 304.31h-3.8M456.0 300.77h3.8M957.4 300.77h-3.8M456.0 297.60h3.8M957.4 297.60h-3.8M456.0 276.77h3.8M957.4 276.77h-3.8M456.0 264.58h3.8M957.4 264.58h-3.8M456.0 255.94h3.8M957.4 255.94h-3.8M456.0 249.23h3.8M957.4 249.23h-3.8M456.0 243.75h3.8M957.4 243.75h-3.8M456.0 239.12h3.8M957.4 239.12h-3.8M456.0 235.11h3.8M957.4 235.11h-3.8M456.0 231.57h3.8M957.4 231.57h-3.8M456.0 228.40h6M957.4 228.40h-6M456.0 207.57h3.8M957.4 207.57h-3.8M456.0 195.38h3.8M957.4 195.38h-3.8M456.0 186.74h3.8M957.4 186.74h-3.8M456.0 180.03h3.8M957.4 180.03h-3.8M456.0 174.55h3.8M957.4 174.55h-3.8M456.0 169.92h3.8M957.4 169.92h-3.8M456.0 165.91h3.8M957.4 165.91h-3.8M456.0 162.37h3.8M957.4 162.37h-3.8M456.0 159.20h3.8M957.4 159.20h-3.8M456.0 138.37h3.8M957.4 138.37h-3.8M456.0 126.18h3.8M957.4 126.18h-3.8M456.0 117.54h3.8M957.4 117.54h-3.8M456.0 110.83h3.8M957.4 110.83h-3.8M456.0 105.35h3.8M957.4 105.35h-3.8M456.0 100.72h3.8M957.4 100.72h-3.8M456.0 96.71h3.8M957.4 96.71h-3.8M456.0 93.17h3.8M957.4 93.17h-3.8M456.0 90.00h6M957.4 90.00h-6M456.0 69.17h3.8M957.4 69.17h-3.8M456.0 56.98h3.8M957.4 56.98h-3.8M456.0 48.34h3.8M957.4 48.34h-3.8M456.0 41.63h3.8M957.4 41.63h-3.8M456.0 36.15h3.8M957.4 36.15h-3.8M456.0 31.52h3.8M957.4 31.52h-3.8M456.0 27.51h3.8M957.4 27.51h-3.8M456.0 23.97h3.8M957.4 23.97h-3.8M456.0 20.80h3.8M957.4 20.80h-3.8M456.0 387.63h3.5M957.4 387.63h-3.5M456.0 382.15h3.5M957.4 382.15h-3.5M456.0 377.52h3.5M957.4 377.52h-3.5M456.0 373.51h3.5M957.4 373.51h-3.5M456.0 369.97h3.5M957.4 369.97h-3.5M456.00 386.9v-3.5M456.00 21.5v3.5M490.76 386.9v-3.5M490.76 21.5v3.5M519.16 386.9v-3.5M519.16 21.5v3.5M543.17 386.9v-3.5M543.17 21.5v3.5M563.97 386.9v-3.5M563.97 21.5v3.5M582.32 386.9v-3.5M582.32 21.5v3.5M598.73 386.9v-6M598.73 21.5v6M706.70 386.9v-3.5M706.70 21.5v3.5M769.86 386.9v-3.5M769.86 21.5v3.5M814.67 386.9v-3.5M814.67 21.5v3.5M849.43 386.9v-3.5M849.43 21.5v3.5M877.83 386.9v-3.5M877.83 21.5v3.5M901.84 386.9v-3.5M901.84 21.5v3.5M922.64 386.9v-3.5M922.64 21.5v3.5M940.99 386.9v-3.5M940.99 21.5v3.5M957.40 386.9v-6M957.40 21.5v6" stroke="#262626" stroke-width="2" fill="none"/>
<text x="431.3" y="100.5" font-size="29" text-anchor="end">10</text><text x="431.8" y="87.7" font-size="20">4</text>
<text x="431.3" y="238.9" font-size="29" text-anchor="end">10</text><text x="431.8" y="226.1" font-size="20">2</text>
<text x="431.3" y="377.3" font-size="29" text-anchor="end">10</text><text x="431.8" y="364.5" font-size="20">0</text>
<text x="602" y="428" font-size="29" text-anchor="end">10</text><text x="602" y="416" font-size="20">−1</text>
<text x="968.3" y="428" font-size="29" text-anchor="end">10</text><text x="968.6" y="416" font-size="20">0</text>
<text x="655" y="467.5" font-size="29"><tspan font-style="italic">q</tspan> (nm<tspan font-size="20" dy="-11">−1</tspan><tspan dy="11">)</tspan></text>
<text transform="translate(374.8,204.3) rotate(-90)" font-size="29" text-anchor="middle" textLength="157" lengthAdjust="spacingAndGlyphs"><tspan font-style="italic">I</tspan> (q) (arb. u.)</text>
<rect x="469.8" y="340.6" width="232.7" height="33.2" fill="#fff" stroke="#262626" stroke-width="1.2"/>
<path d="M475 356.6H520.6" stroke="#0072bd" stroke-width="3"/>
<text x="535" y="364.3" font-size="20.5">AuNP25 PSSH2k</text>
<rect x="459.4" y="531.5" width="497.1" height="377.7" fill="none" stroke="#262626" stroke-width="2.6"/>
<text x="446" y="919.5" font-size="29" text-anchor="end" font-weight="normal" font-style="normal" fill="#000" >0</text>
<text x="446" y="843.96" font-size="29" text-anchor="end" font-weight="normal" font-style="normal" fill="#000" >2</text>
<text x="446" y="768.42" font-size="29" text-anchor="end" font-weight="normal" font-style="normal" fill="#000" >4</text>
<text x="446" y="692.88" font-size="29" text-anchor="end" font-weight="normal" font-style="normal" fill="#000" >6</text>
<text x="446" y="617.3399999999999" font-size="29" text-anchor="end" font-weight="normal" font-style="normal" fill="#000" >8</text>
<text x="446" y="541.8" font-size="29" text-anchor="end" font-weight="normal" font-style="normal" fill="#000" >10</text>
<text x="514.63" y="944" font-size="29" text-anchor="middle" font-weight="normal" font-style="normal" fill="#000" >30</text>
<text x="625.10" y="944" font-size="29" text-anchor="middle" font-weight="normal" font-style="normal" fill="#000" >40</text>
<text x="735.57" y="944" font-size="29" text-anchor="middle" font-weight="normal" font-style="normal" fill="#000" >50</text>
<text x="846.03" y="944" font-size="29" text-anchor="middle" font-weight="normal" font-style="normal" fill="#000" >60</text>
<text x="956.50" y="944" font-size="29" text-anchor="middle" font-weight="normal" font-style="normal" fill="#000" >70</text>
<path d="M459.4 909.20h6M956.5 909.20h-6M459.4 833.66h6M956.5 833.66h-6M459.4 758.12h6M956.5 758.12h-6M459.4 682.58h6M956.5 682.58h-6M459.4 607.04h6M956.5 607.04h-6M459.4 531.50h6M956.5 531.50h-6M514.63 909.2v-6M514.63 531.5v6M625.10 909.2v-6M625.10 531.5v6M735.57 909.2v-6M735.57 531.5v6M846.03 909.2v-6M846.03 531.5v6M956.50 909.2v-6M956.50 531.5v6" stroke="#262626" stroke-width="2.2" fill="none"/>
<polyline fill="none" stroke="#0072bd" stroke-width="2.8" stroke-linejoin="round"  points="459.4,909.2 506.5,909.2 507.6,906 508.6,895 509.6,860 510.1,700 510.3,607.8 510.6,700 511.1,860 512.2,895 513.5,906 515,909.2 530,909.2"/>
<polyline fill="none" stroke="#d95319" stroke-width="3.0" stroke-linejoin="round"  points="460.5,909.2 508,909.2 510.7,907 513,903 515,890 515.6,880 516.2,790 516.9,706.6 517.7,790 518.5,880 519.5,902 520.8,908.6 523,909.2 594,909.2"/>
<polyline fill="none" stroke="#edb120" stroke-width="3.0" stroke-linejoin="round"  points="594,909.2 640,909.2 650,908.6 657,906.5 659,905 662,904 665,903 667.4,901 669.5,895 671.5,880 673.5,865 675.2,860.4 676.5,862 678,870 680,890 682.7,906 685,909.2 797,909.2"/>
<polyline fill="none" stroke="#7e2f8e" stroke-width="3.0" stroke-linejoin="round"  points="695,909.2 775,909.2 778,908.6 782,907 784.5,905 787,900 789,890 790.6,880.9 793,875 795.8,871.7 798.8,878.8 800.5,888 803,901.3 807,909.3 933,909.2"/>
<polyline fill="none" stroke="#77ac30" stroke-width="3.0" stroke-linejoin="round"  points="797.8,909.2 892,909.2 894.4,906.4 896.5,909.2 909.1,909.2 911.5,900 914.2,880.9 916.3,872.3 917.3,871.7 919.3,873.6 922.4,878.8 925.5,897.2 928.5,907.4 930.5,906.8 932.6,906.4 934,909.2 955.8,909.2"/>
<rect x="638" y="560.4" width="294.6" height="152.2" fill="#fff" stroke="#262626" stroke-width="1.2"/>
<path d="M646 577.10H705" stroke="#0072bd" stroke-width="3.3"/>
<text x="718.3" y="584.90" font-size="21.5" text-anchor="start" font-weight="normal" font-style="normal" fill="#000" textLength="194.6" lengthAdjust="spacingAndGlyphs">AuNP25@PSSH2k</text>
<path d="M646 606.62H705" stroke="#d95319" stroke-width="3.3"/>
<text x="718.3" y="614.42" font-size="21.5" text-anchor="start" font-weight="normal" font-style="normal" fill="#000" textLength="194.6" lengthAdjust="spacingAndGlyphs">AuNP25@PSSH5k</text>
<path d="M646 636.14H705" stroke="#edb120" stroke-width="3.3"/>
<text x="718.3" y="643.94" font-size="21.5" text-anchor="start" font-weight="normal" font-style="normal" fill="#000" textLength="207.2" lengthAdjust="spacingAndGlyphs">AuNP35@PSSH12k</text>
<path d="M646 665.66H705" stroke="#7e2f8e" stroke-width="3.3"/>
<text x="718.3" y="673.46" font-size="21.5" text-anchor="start" font-weight="normal" font-style="normal" fill="#000" textLength="194.6" lengthAdjust="spacingAndGlyphs">AuNP50@PSSH5k</text>
<path d="M646 695.18H705" stroke="#77ac30" stroke-width="3.3"/>
<text x="718.3" y="702.98" font-size="21.5" text-anchor="start" font-weight="normal" font-style="normal" fill="#000" textLength="207.2" lengthAdjust="spacingAndGlyphs">AuNP60@PSSH12k</text>
<text transform="translate(390.2,719.7) rotate(-90)" font-size="29" text-anchor="middle">Distribution <tspan font-style="italic">P</tspan>(a)</text>
<text x="708" y="986.5" font-size="29" text-anchor="middle">Lattice constant <tspan font-style="italic">a</tspan> (nm)</text>
<rect x="461.2" y="1054.0" width="496.3" height="376.0" fill="none" stroke="#262626" stroke-width="2.6"/>
<text x="447.8" y="1440.30" font-size="29" text-anchor="end" font-weight="normal" font-style="normal" fill="#000" >0</text>
<text x="447.8" y="1377.63" font-size="29" text-anchor="end" font-weight="normal" font-style="normal" fill="#000" >0.2</text>
<text x="447.8" y="1314.97" font-size="29" text-anchor="end" font-weight="normal" font-style="normal" fill="#000" >0.4</text>
<text x="447.8" y="1252.30" font-size="29" text-anchor="end" font-weight="normal" font-style="normal" fill="#000" >0.6</text>
<text x="447.8" y="1189.63" font-size="29" text-anchor="end" font-weight="normal" font-style="normal" fill="#000" >0.8</text>
<text x="447.8" y="1126.97" font-size="29" text-anchor="end" font-weight="normal" font-style="normal" fill="#000" >1</text>
<text x="447.8" y="1064.30" font-size="29" text-anchor="end" font-weight="normal" font-style="normal" fill="#000" >1.2</text>
<text x="510.83" y="1463.6" font-size="29" text-anchor="middle" font-weight="normal" font-style="normal" fill="#000" >−2</text>
<text x="610.09" y="1463.6" font-size="29" text-anchor="middle" font-weight="normal" font-style="normal" fill="#000" >−1</text>
<text x="709.35" y="1463.6" font-size="29" text-anchor="middle" font-weight="normal" font-style="normal" fill="#000" >0</text>
<text x="808.61" y="1463.6" font-size="29" text-anchor="middle" font-weight="normal" font-style="normal" fill="#000" >1</text>
<text x="907.87" y="1463.6" font-size="29" text-anchor="middle" font-weight="normal" font-style="normal" fill="#000" >2</text>
<path d="M461.2 1430.00h6M957.5 1430.00h-6M461.2 1367.33h6M957.5 1367.33h-6M461.2 1304.67h6M957.5 1304.67h-6M461.2 1242.00h6M957.5 1242.00h-6M461.2 1179.33h6M957.5 1179.33h-6M461.2 1116.67h6M957.5 1116.67h-6M461.2 1054.00h6M957.5 1054.00h-6M510.83 1430.0v-6M510.83 1054.0v6M610.09 1430.0v-6M610.09 1054.0v6M709.35 1430.0v-6M709.35 1054.0v6M808.61 1430.0v-6M808.61 1054.0v6M907.87 1430.0v-6M907.87 1054.0v6" stroke="#262626" stroke-width="2.2" fill="none"/>
<polyline fill="none" stroke="#a6a6a6" stroke-width="3.0" stroke-linejoin="round" stroke-dasharray="8.6 8" points="460.3,1412.6 485.5,1378.1 510.8,1404.7 524,1400.7 542.6,1398 561.2,1398 585.1,1399.9 593.1,1394 609,1383.4 619.7,1354.2 630.3,1325 638.3,1311.7 648.9,1293.1 656.3,1279.2 662.9,1258 669.4,1223.6 677.6,1184.4 684.1,1153.3 689,1135.4 697.2,1114.1 705.4,1096.1 709.5,1086.3 712.7,1102.7 716.8,1132.1 720.1,1145.2 723.3,1176.2 728.2,1200.7 733.2,1226.9 738,1254.7 743,1280 748,1312.1 757.1,1355 765.7,1369.3 773.6,1374.3 781,1379.3 789,1380.7 807,1382.2 816,1385.7 824,1389.3 841.5,1397.2 857,1405.8 872,1415.8 883,1424.3 895,1415.8 906,1410.5 921,1417 933,1421.5 957,1421.5"/>
<polyline fill="none" stroke="#0072bd" stroke-width="2.8" stroke-linejoin="round"  points="461.2,1430 687.4,1430 688.2,1429.5 691.3,1407.1 695,1399.4 697.4,1361.1 700.2,1270 701.8,1213.8 705.4,1168 708.6,1110.9 709.5,1097 710.4,1120 711.5,1217 713,1280 714.2,1321 716.4,1388.7 720.4,1419.4 723.4,1430 957.5,1430"/>
<polyline fill="none" stroke="#edb120" stroke-width="2.8" stroke-linejoin="round"  points="460.3,1425.4 468.3,1425.1 476.2,1425.9 484.2,1425.4 490.9,1422.7 498.8,1425.1 506.8,1422.2 513.4,1421.4 521.4,1423.8 529.4,1423.3 536,1421.9 544,1423.3 551.9,1418.5 559.9,1420.1 566.6,1411.3 574.5,1421.1 582.5,1411.3 590.5,1415.3 598.4,1415.8 606.4,1410 614.4,1406.5 621.8,1408.9 629,1404.1 636.9,1395.4 644.9,1398.8 652.9,1387.4 660.8,1362.2 668.8,1330.3 676.8,1282.5 684.1,1241.6 692.3,1192.6 700.5,1126.4 709.5,1117.4 716.8,1143.5 725,1146 733.2,1192.6 738,1233.4 744.9,1290.6 751,1348.9 758.7,1388.7 767.9,1413.2 783.2,1427 807.7,1430 957.5,1430"/>
<text transform="translate(382.7,1242.6) rotate(-90)" font-size="29" text-anchor="middle">Distribution <tspan font-style="italic">P</tspan>(a)</text>
<text x="708.7" y="1507" font-size="29" text-anchor="middle" textLength="100" lengthAdjust="spacingAndGlyphs">Δ<tspan font-style="italic">a</tspan> (nm)</text>
</svg></body></html>
